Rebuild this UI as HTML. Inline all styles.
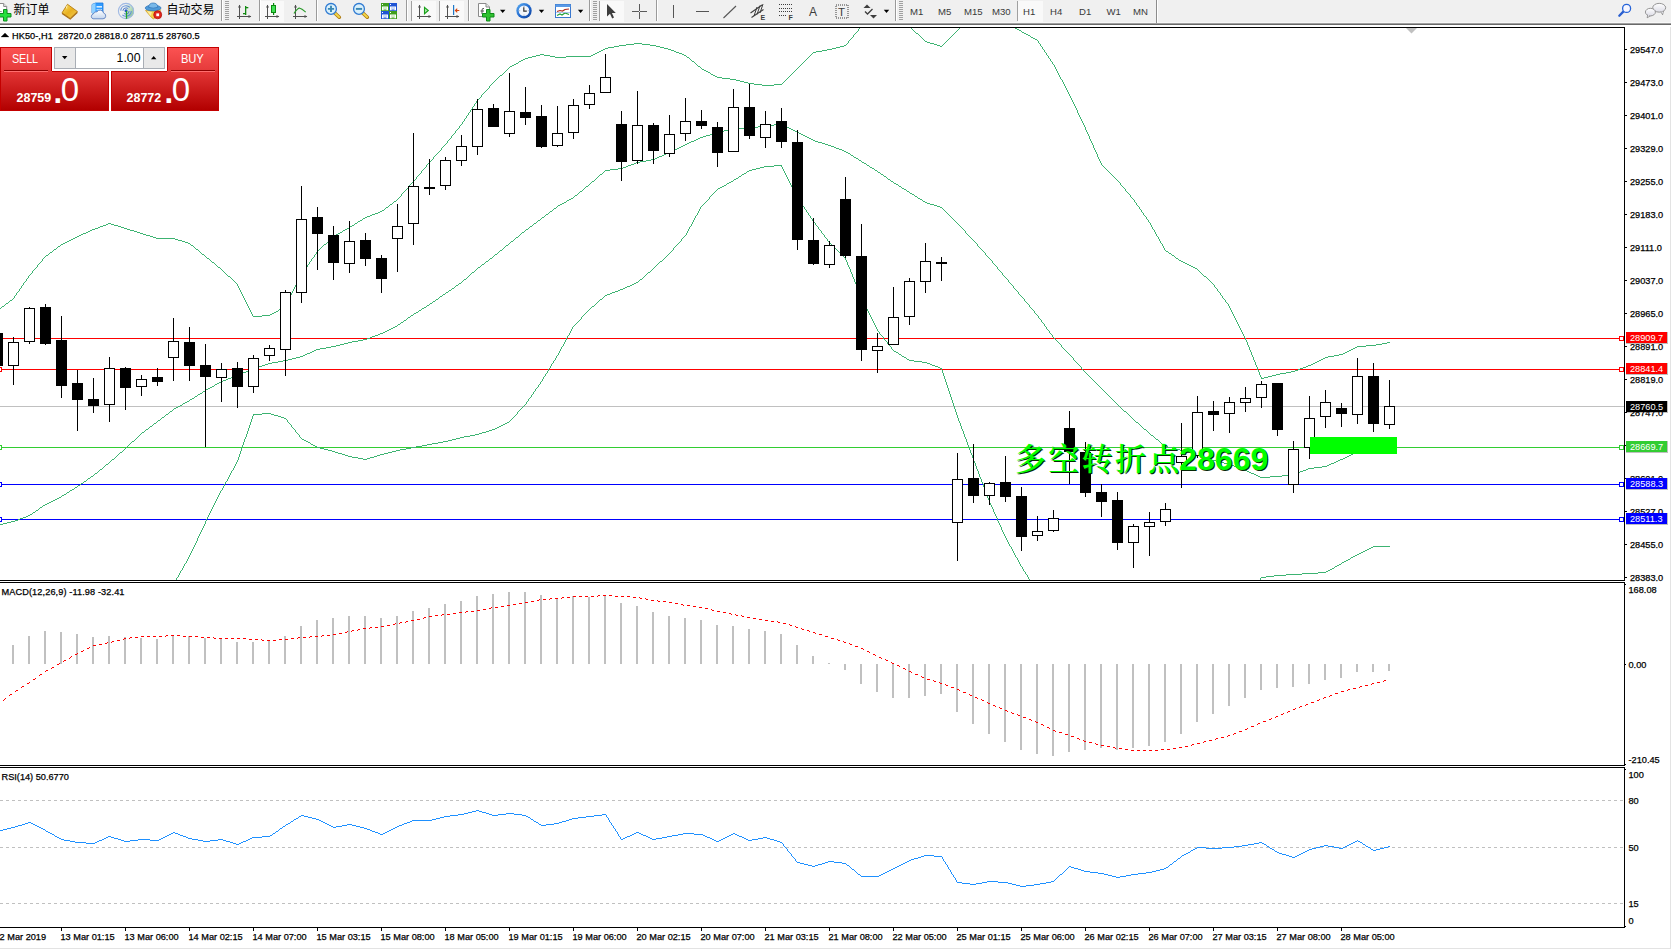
<!DOCTYPE html>
<html><head><meta charset="utf-8"><title>HK50-,H1</title>
<style>
html,body{margin:0;padding:0;background:#fff;}
body{width:1671px;height:949px;position:relative;overflow:hidden;font-family:"Liberation Sans","Noto Sans CJK SC",sans-serif;}
#tb{position:absolute;left:0;top:0;width:1671px;height:27px;background:linear-gradient(#f0f0f0 0,#f0f0f0 22px,#f8f8f8 22px,#f8f8f8 23px,#a0a0a0 23px,#a0a0a0 24px,#696969 24px,#696969 25px,#fff 25px);}
#ow{position:absolute;left:0;top:47px;width:219px;height:64px;}
#ow .tab{position:absolute;top:0;width:52px;height:24px;box-sizing:border-box;border:1px solid #c40000;border-bottom:none;background:linear-gradient(#fb5252,#e53a3a);}
#ow .tl{position:absolute;top:4px;color:#fff;font-size:12px;line-height:14px;display:inline-block;transform-origin:0 0;}
#ow .tb{position:absolute;top:24px;height:1px;display:block;background:#c40000;}
#ow .ul{position:absolute;top:23px;width:44px;height:2px;display:block;background:linear-gradient(#8e0000 0,#8e0000 1px,#ff6e6e 1px,#ff6e6e 2px);}
#ow .pan{position:absolute;top:24px;width:109px;height:40px;box-sizing:border-box;border:1px solid #c40000;border-top:none;background:linear-gradient(#e33636,#b20000);color:#fff;}
#ow .pan:nth-of-type(4){width:108px}
#ow .ps{position:absolute;top:20px;font-size:12.5px;font-weight:bold;line-height:14px;}
#ow .pd{position:absolute;top:6.5px;font-size:31px;line-height:30px;font-weight:bold;margin-left:-2px}
#ow .pb{position:absolute;top:2px;font-size:33px;line-height:34px;}
#ow .spin{position:absolute;left:54px;top:0;width:111px;height:22px;box-sizing:border-box;border:1px solid #a9aeb5;background:#fff;}
#ow .sb{position:absolute;top:0;width:20px;height:20px;background:#e9e9e9;}
#ow .sb:first-child{border-right:1px solid #a9aeb5}
#ow .sb:last-child{border-left:1px solid #a9aeb5}
#ow .sv{position:absolute;right:23.500px;top:2.500px;font-size:12.300px;line-height:14px;color:#000;}

</style></head><body>
<svg width="1671" height="949" viewBox="0 0 1671 949" style="position:absolute;left:0;top:0"><rect x="0" y="28" width="1671" height="921" fill="#fff" />
<rect x="0" y="338" width="1624" height="1" fill="#ff0000" />
<rect x="0" y="369" width="1624" height="1" fill="#ff0000" />
<rect x="0" y="406" width="1624" height="1" fill="#c0c0c0" />
<rect x="0" y="447" width="1624" height="1" fill="#32cd32" />
<rect x="0" y="484" width="1624" height="1" fill="#0000ff" />
<rect x="0" y="519" width="1624" height="1" fill="#0000ff" />
<clipPath id="cm"><rect x="0" y="28" width="1624" height="552"/></clipPath>
<g clip-path="url(#cm)">
<path d="M1015 28h2v1h-2zM1017 29h2v1h-2zM1019 30h2v1h-2zM1022 32h2v1h-2zM916 33h2v1h-2zM1024 33h2v1h-2zM1026 34h2v1h-2zM1028 35h2v1h-2zM1031 37h2v1h-2zM1033 38h2v1h-2zM1035 39h2v1h-2zM925 41h2v1h-2zM927 42h3v1h-3zM634 43h8v1h-8zM930 43h4v1h-4zM626 44h8v1h-8zM642 44h8v1h-8zM934 44h3v1h-3zM619 45h7v1h-7zM650 45h6v1h-6zM844 45h2v1h-2zM937 45h3v1h-3zM614 46h5v1h-5zM656 46h4v1h-4zM840 46h4v1h-4zM940 46h2v1h-2zM608 47h6v1h-6zM660 47h4v1h-4zM836 47h4v1h-4zM605 48h3v1h-3zM664 48h4v1h-4zM832 48h4v1h-4zM603 49h2v1h-2zM668 49h3v1h-3zM827 49h5v1h-5zM601 50h2v1h-2zM671 50h3v1h-3zM822 50h5v1h-5zM599 51h2v1h-2zM674 51h2v1h-2zM816 51h6v1h-6zM597 52h2v1h-2zM676 52h3v1h-3zM813 52h3v1h-3zM595 53h2v1h-2zM679 53h3v1h-3zM540 54h4v1h-4zM593 54h2v1h-2zM682 54h2v1h-2zM536 55h4v1h-4zM544 55h6v1h-6zM591 55h2v1h-2zM684 55h2v1h-2zM532 56h4v1h-4zM550 56h5v1h-5zM566 56h25v1h-25zM528 57h4v1h-4zM555 57h11v1h-11zM687 57h2v1h-2zM525 58h3v1h-3zM523 59h2v1h-2zM521 60h2v1h-2zM519 61h2v1h-2zM692 61h2v1h-2zM516 63h2v1h-2zM514 64h2v1h-2zM512 65h2v1h-2zM510 66h2v1h-2zM698 66h2v1h-2zM702 69h2v1h-2zM704 70h2v1h-2zM706 71h2v1h-2zM708 72h2v1h-2zM711 74h2v1h-2zM500 75h2v1h-2zM713 75h2v1h-2zM715 76h2v1h-2zM717 77h5v1h-5zM722 78h8v1h-8zM730 79h6v1h-6zM736 80h4v1h-4zM740 81h4v1h-4zM744 82h4v1h-4zM748 83h6v1h-6zM754 84h8v1h-8zM774 84h8v1h-8zM762 85h12v1h-12zM394 201h2v1h-2zM390 204h2v1h-2zM386 207h2v1h-2zM382 210h2v1h-2zM380 211h2v1h-2zM378 212h2v1h-2zM375 213h3v1h-3zM372 214h3v1h-3zM370 215h2v1h-2zM367 216h3v1h-3zM365 217h2v1h-2zM363 218h2v1h-2zM360 220h2v1h-2zM358 221h2v1h-2zM108 223h3v1h-3zM355 223h2v1h-2zM106 224h2v1h-2zM111 224h3v1h-3zM103 225h3v1h-3zM114 225h4v1h-4zM352 225h2v1h-2zM100 226h3v1h-3zM118 226h3v1h-3zM350 226h2v1h-2zM98 227h2v1h-2zM121 227h3v1h-3zM95 228h3v1h-3zM124 228h3v1h-3zM347 228h2v1h-2zM92 229h3v1h-3zM127 229h3v1h-3zM345 229h2v1h-2zM90 230h2v1h-2zM130 230h4v1h-4zM343 230h2v1h-2zM88 231h2v1h-2zM134 231h3v1h-3zM86 232h2v1h-2zM137 232h3v1h-3zM340 232h2v1h-2zM83 233h3v1h-3zM140 233h3v1h-3zM338 233h2v1h-2zM81 234h2v1h-2zM143 234h3v1h-3zM336 234h2v1h-2zM79 235h2v1h-2zM146 235h4v1h-4zM334 235h2v1h-2zM77 236h2v1h-2zM150 236h3v1h-3zM75 237h2v1h-2zM153 237h3v1h-3zM73 238h2v1h-2zM156 238h19v1h-19zM71 239h2v1h-2zM175 239h3v1h-3zM69 240h2v1h-2zM178 240h4v1h-4zM67 241h2v1h-2zM182 241h3v1h-3zM65 242h2v1h-2zM185 242h3v1h-3zM63 243h2v1h-2zM188 243h2v1h-2zM61 244h2v1h-2zM324 244h2v1h-2zM191 245h2v1h-2zM58 246h2v1h-2zM54 249h2v1h-2zM196 249h2v1h-2zM1166 251h2v1h-2zM50 252h2v1h-2zM1169 253h2v1h-2zM202 254h2v1h-2zM46 255h2v1h-2zM1172 255h2v1h-2zM207 258h2v1h-2zM1176 258h2v1h-2zM1179 260h2v1h-2zM1181 261h2v1h-2zM212 262h2v1h-2zM1183 262h2v1h-2zM1185 263h2v1h-2zM1187 264h2v1h-2zM1189 265h2v1h-2zM1191 266h2v1h-2zM218 267h2v1h-2zM1193 267h2v1h-2zM1195 268h2v1h-2zM228 276h2v1h-2zM1204 276h2v1h-2zM10 300h2v1h-2zM6 303h2v1h-2zM2 306h2v1h-2zM283 307h2v1h-2zM281 308h2v1h-2zM279 309h2v1h-2zM276 311h2v1h-2zM274 312h2v1h-2zM272 313h2v1h-2zM270 314h2v1h-2zM262 315h8v1h-8zM253 316h9v1h-9zM1387 342h3v1h-3zM1382 343h5v1h-5zM1376 344h6v1h-6zM1366 345h10v1h-10zM1357 346h9v1h-9zM1355 347h2v1h-2zM1353 348h2v1h-2zM1351 349h2v1h-2zM1349 350h2v1h-2zM1347 351h2v1h-2zM1345 352h2v1h-2zM1343 353h2v1h-2zM1339 354h4v1h-4zM1334 355h5v1h-5zM1328 356h6v1h-6zM1325 357h3v1h-3zM1323 358h2v1h-2zM1321 359h2v1h-2zM1319 360h2v1h-2zM1317 361h2v1h-2zM1315 362h2v1h-2zM1313 363h2v1h-2zM1311 364h2v1h-2zM1308 365h3v1h-3zM1306 366h2v1h-2zM1303 367h3v1h-3zM1300 368h3v1h-3zM1298 369h2v1h-2zM1295 370h3v1h-3zM1291 371h4v1h-4zM1286 372h5v1h-5zM1280 373h6v1h-6zM1276 374h4v1h-4zM1272 375h4v1h-4zM1268 376h4v1h-4zM1264 377h4v1h-4zM1261 378h3v1h-3zM859 28h1v1h-1zM911 28h1v1h-1zM959 28h1v1h-1zM858 29h1v2h-1zM912 29h1v1h-1zM958 29h1v1h-1zM913 30h1v1h-1zM957 30h1v1h-1zM857 31h1v1h-1zM914 31h1v1h-1zM956 31h1v1h-1zM1021 31h1v1h-1zM856 32h1v1h-1zM915 32h1v1h-1zM955 32h1v1h-1zM855 33h1v1h-1zM954 33h1v1h-1zM854 34h1v1h-1zM918 34h1v1h-1zM953 34h1v1h-1zM853 35h1v2h-1zM919 35h1v1h-1zM952 35h1v1h-1zM920 36h1v1h-1zM951 36h1v1h-1zM1030 36h1v1h-1zM852 37h1v1h-1zM921 37h1v1h-1zM950 37h1v1h-1zM851 38h1v1h-1zM922 38h1v1h-1zM949 38h1v1h-1zM850 39h1v1h-1zM923 39h1v1h-1zM948 39h1v1h-1zM849 40h1v1h-1zM924 40h1v1h-1zM947 40h1v1h-1zM1037 40h1v1h-1zM848 41h1v2h-1zM946 41h1v1h-1zM1038 41h1v2h-1zM945 42h1v1h-1zM847 43h1v1h-1zM944 43h1v1h-1zM1039 43h1v1h-1zM846 44h1v1h-1zM943 44h1v1h-1zM1040 44h1v2h-1zM942 45h1v1h-1zM1041 46h1v1h-1zM1042 47h1v2h-1zM1043 49h1v1h-1zM1044 50h1v2h-1zM1045 52h1v1h-1zM812 53h1v1h-1zM1046 53h1v2h-1zM811 54h1v1h-1zM810 55h1v1h-1zM1047 55h1v1h-1zM686 56h1v1h-1zM809 56h1v1h-1zM1048 56h1v2h-1zM808 57h1v1h-1zM689 58h1v1h-1zM807 58h1v1h-1zM1049 58h1v1h-1zM690 59h1v1h-1zM806 59h1v1h-1zM1050 59h1v2h-1zM691 60h1v1h-1zM805 60h1v1h-1zM804 61h1v1h-1zM1051 61h1v1h-1zM518 62h1v1h-1zM694 62h1v1h-1zM803 62h1v1h-1zM1052 62h1v2h-1zM695 63h1v1h-1zM802 63h1v1h-1zM696 64h1v1h-1zM801 64h1v1h-1zM1053 64h1v1h-1zM697 65h1v1h-1zM800 65h1v1h-1zM1054 65h1v2h-1zM799 66h1v1h-1zM509 67h1v1h-1zM700 67h1v1h-1zM798 67h1v1h-1zM1055 67h1v2h-1zM508 68h1v1h-1zM701 68h1v1h-1zM797 68h1v1h-1zM507 69h1v1h-1zM796 69h1v1h-1zM1056 69h1v2h-1zM506 70h1v1h-1zM795 70h1v1h-1zM505 71h1v1h-1zM794 71h1v1h-1zM1057 71h1v2h-1zM504 72h1v1h-1zM793 72h1v1h-1zM503 73h1v1h-1zM710 73h1v1h-1zM792 73h1v1h-1zM1058 73h1v2h-1zM502 74h1v1h-1zM791 74h1v1h-1zM790 75h1v1h-1zM1059 75h1v2h-1zM499 76h1v1h-1zM789 76h1v1h-1zM498 77h1v1h-1zM788 77h1v1h-1zM1060 77h1v2h-1zM497 78h1v1h-1zM787 78h1v1h-1zM496 79h1v1h-1zM786 79h1v1h-1zM1061 79h1v1h-1zM495 80h1v1h-1zM785 80h1v1h-1zM1062 80h1v2h-1zM494 81h1v1h-1zM784 81h1v1h-1zM493 82h1v1h-1zM783 82h1v1h-1zM1063 82h1v2h-1zM492 83h1v1h-1zM782 83h1v1h-1zM491 84h1v1h-1zM1064 84h1v2h-1zM490 85h1v1h-1zM489 86h1v2h-1zM1065 86h1v2h-1zM488 88h1v1h-1zM1066 88h1v2h-1zM487 89h1v1h-1zM486 90h1v1h-1zM1067 90h1v2h-1zM485 91h1v1h-1zM484 92h1v1h-1zM1068 92h1v2h-1zM483 93h1v1h-1zM482 94h1v1h-1zM1069 94h1v2h-1zM481 95h1v2h-1zM1070 96h1v2h-1zM480 97h1v1h-1zM479 98h1v1h-1zM1071 98h1v2h-1zM478 99h1v1h-1zM477 100h1v1h-1zM1072 100h1v2h-1zM476 101h1v2h-1zM1073 102h1v2h-1zM475 103h1v1h-1zM474 104h1v2h-1zM1074 104h1v2h-1zM473 106h1v1h-1zM1075 106h1v2h-1zM472 107h1v2h-1zM1076 108h1v2h-1zM471 109h1v1h-1zM470 110h1v2h-1zM1077 110h1v3h-1zM469 112h1v1h-1zM468 113h1v2h-1zM1078 113h1v2h-1zM467 115h1v1h-1zM1079 115h1v2h-1zM466 116h1v2h-1zM1080 117h1v2h-1zM465 118h1v1h-1zM464 119h1v2h-1zM1081 119h1v2h-1zM463 121h1v1h-1zM1082 121h1v2h-1zM462 122h1v2h-1zM1083 123h1v2h-1zM461 124h1v1h-1zM460 125h1v1h-1zM1084 125h1v2h-1zM459 126h1v2h-1zM1085 127h1v3h-1zM458 128h1v1h-1zM457 129h1v1h-1zM456 130h1v1h-1zM1086 130h1v2h-1zM455 131h1v2h-1zM1087 132h1v2h-1zM454 133h1v1h-1zM453 134h1v1h-1zM1088 134h1v2h-1zM452 135h1v1h-1zM451 136h1v2h-1zM1089 136h1v3h-1zM450 138h1v1h-1zM449 139h1v1h-1zM1090 139h1v2h-1zM448 140h1v1h-1zM447 141h1v2h-1zM1091 141h1v2h-1zM446 143h1v1h-1zM1092 143h1v2h-1zM445 144h1v1h-1zM444 145h1v1h-1zM1093 145h1v3h-1zM443 146h1v1h-1zM442 147h1v1h-1zM441 148h1v2h-1zM1094 148h1v2h-1zM440 150h1v1h-1zM1095 150h1v2h-1zM439 151h1v1h-1zM438 152h1v1h-1zM1096 152h1v2h-1zM437 153h1v1h-1zM436 154h1v1h-1zM1097 154h1v3h-1zM435 155h1v1h-1zM434 156h1v1h-1zM433 157h1v2h-1zM1098 157h1v2h-1zM432 159h1v1h-1zM1099 159h1v2h-1zM431 160h1v1h-1zM430 161h1v1h-1zM1100 161h1v2h-1zM429 162h1v1h-1zM428 163h1v1h-1zM1101 163h1v2h-1zM427 164h1v1h-1zM426 165h1v2h-1zM1102 165h1v1h-1zM1103 166h1v1h-1zM425 167h1v1h-1zM1104 167h1v1h-1zM424 168h1v1h-1zM1105 168h1v1h-1zM423 169h1v1h-1zM1106 169h1v1h-1zM422 170h1v1h-1zM1107 170h1v1h-1zM421 171h1v2h-1zM1108 171h1v1h-1zM1109 172h1v1h-1zM420 173h1v1h-1zM1110 173h1v1h-1zM419 174h1v1h-1zM1111 174h1v1h-1zM418 175h1v1h-1zM1112 175h1v1h-1zM417 176h1v1h-1zM1113 176h1v1h-1zM416 177h1v2h-1zM1114 177h1v1h-1zM1115 178h1v1h-1zM415 179h1v1h-1zM1116 179h1v1h-1zM414 180h1v1h-1zM1117 180h1v1h-1zM413 181h1v1h-1zM1118 181h1v1h-1zM412 182h1v1h-1zM1119 182h1v1h-1zM411 183h1v1h-1zM1120 183h1v2h-1zM410 184h1v1h-1zM409 185h1v2h-1zM1121 185h1v1h-1zM1122 186h1v1h-1zM408 187h1v1h-1zM1123 187h1v1h-1zM407 188h1v1h-1zM1124 188h1v1h-1zM406 189h1v1h-1zM1125 189h1v2h-1zM405 190h1v1h-1zM404 191h1v1h-1zM1126 191h1v1h-1zM403 192h1v1h-1zM1127 192h1v1h-1zM402 193h1v1h-1zM1128 193h1v1h-1zM401 194h1v2h-1zM1129 194h1v1h-1zM1130 195h1v2h-1zM400 196h1v1h-1zM399 197h1v1h-1zM1131 197h1v1h-1zM398 198h1v1h-1zM1132 198h1v1h-1zM397 199h1v1h-1zM1133 199h1v1h-1zM396 200h1v1h-1zM1134 200h1v2h-1zM393 202h1v1h-1zM1135 202h1v1h-1zM392 203h1v1h-1zM1136 203h1v2h-1zM389 205h1v1h-1zM1137 205h1v1h-1zM388 206h1v1h-1zM1138 206h1v1h-1zM1139 207h1v2h-1zM385 208h1v1h-1zM384 209h1v1h-1zM1140 209h1v1h-1zM1141 210h1v2h-1zM1142 212h1v1h-1zM1143 213h1v2h-1zM1144 215h1v1h-1zM1145 216h1v1h-1zM1146 217h1v2h-1zM362 219h1v1h-1zM1147 219h1v1h-1zM1148 220h1v2h-1zM357 222h1v1h-1zM1149 222h1v1h-1zM1150 223h1v2h-1zM354 224h1v1h-1zM1151 225h1v2h-1zM349 227h1v1h-1zM1152 227h1v2h-1zM1153 229h1v1h-1zM1154 230h1v2h-1zM342 231h1v1h-1zM1155 232h1v2h-1zM1156 234h1v2h-1zM333 236h1v1h-1zM1157 236h1v1h-1zM332 237h1v1h-1zM1158 237h1v2h-1zM331 238h1v1h-1zM330 239h1v1h-1zM1159 239h1v2h-1zM329 240h1v1h-1zM328 241h1v1h-1zM1160 241h1v2h-1zM327 242h1v1h-1zM326 243h1v1h-1zM1161 243h1v1h-1zM190 244h1v1h-1zM1162 244h1v2h-1zM60 245h1v1h-1zM323 245h1v1h-1zM193 246h1v1h-1zM322 246h1v1h-1zM1163 246h1v2h-1zM57 247h1v1h-1zM194 247h1v1h-1zM321 247h1v1h-1zM56 248h1v1h-1zM195 248h1v1h-1zM320 248h1v1h-1zM1164 248h1v2h-1zM319 249h1v1h-1zM53 250h1v1h-1zM198 250h1v1h-1zM318 250h1v1h-1zM1165 250h1v1h-1zM52 251h1v1h-1zM199 251h1v1h-1zM317 251h1v1h-1zM200 252h1v1h-1zM316 252h1v2h-1zM1168 252h1v1h-1zM49 253h1v1h-1zM201 253h1v1h-1zM48 254h1v1h-1zM315 254h1v1h-1zM1171 254h1v1h-1zM204 255h1v1h-1zM314 255h1v2h-1zM45 256h1v1h-1zM205 256h1v1h-1zM1174 256h1v1h-1zM44 257h1v1h-1zM206 257h1v1h-1zM313 257h1v1h-1zM1175 257h1v1h-1zM43 258h1v1h-1zM312 258h1v1h-1zM42 259h1v2h-1zM209 259h1v1h-1zM311 259h1v2h-1zM1178 259h1v1h-1zM210 260h1v1h-1zM41 261h1v1h-1zM211 261h1v1h-1zM310 261h1v1h-1zM40 262h1v1h-1zM309 262h1v2h-1zM39 263h1v1h-1zM214 263h1v1h-1zM38 264h1v1h-1zM215 264h1v1h-1zM308 264h1v1h-1zM37 265h1v2h-1zM216 265h1v1h-1zM307 265h1v2h-1zM217 266h1v1h-1zM36 267h1v1h-1zM306 267h1v1h-1zM35 268h1v1h-1zM220 268h1v1h-1zM305 268h1v1h-1zM34 269h1v1h-1zM221 269h1v1h-1zM304 269h1v2h-1zM1197 269h1v1h-1zM33 270h1v1h-1zM222 270h1v1h-1zM1198 270h1v1h-1zM32 271h1v2h-1zM223 271h1v1h-1zM303 271h1v1h-1zM1199 271h1v1h-1zM224 272h1v1h-1zM302 272h1v2h-1zM1200 272h1v1h-1zM31 273h1v1h-1zM225 273h1v1h-1zM1201 273h1v1h-1zM30 274h1v1h-1zM226 274h1v1h-1zM301 274h1v1h-1zM1202 274h1v1h-1zM29 275h1v1h-1zM227 275h1v1h-1zM300 275h1v2h-1zM1203 275h1v1h-1zM28 276h1v2h-1zM230 277h1v1h-1zM299 277h1v2h-1zM1206 277h1v1h-1zM27 278h1v1h-1zM231 278h1v1h-1zM1207 278h1v1h-1zM26 279h1v2h-1zM232 279h1v1h-1zM298 279h1v2h-1zM1208 279h1v1h-1zM233 280h1v1h-1zM1209 280h1v1h-1zM25 281h1v1h-1zM234 281h1v1h-1zM297 281h1v2h-1zM1210 281h1v1h-1zM24 282h1v1h-1zM235 282h1v1h-1zM1211 282h1v1h-1zM23 283h1v2h-1zM236 283h1v1h-1zM296 283h1v2h-1zM1212 283h1v1h-1zM237 284h1v2h-1zM1213 284h1v1h-1zM22 285h1v1h-1zM295 285h1v2h-1zM1214 285h1v2h-1zM21 286h1v2h-1zM238 286h1v2h-1zM294 287h1v2h-1zM1215 287h1v1h-1zM20 288h1v1h-1zM239 288h1v2h-1zM1216 288h1v1h-1zM19 289h1v2h-1zM293 289h1v2h-1zM1217 289h1v2h-1zM240 290h1v2h-1zM18 291h1v1h-1zM292 291h1v2h-1zM1218 291h1v1h-1zM17 292h1v1h-1zM241 292h1v2h-1zM1219 292h1v1h-1zM16 293h1v2h-1zM291 293h1v2h-1zM1220 293h1v2h-1zM242 294h1v2h-1zM15 295h1v1h-1zM290 295h1v2h-1zM1221 295h1v1h-1zM14 296h1v2h-1zM243 296h1v2h-1zM1222 296h1v2h-1zM289 297h1v2h-1zM13 298h1v1h-1zM244 298h1v2h-1zM1223 298h1v1h-1zM12 299h1v1h-1zM288 299h1v2h-1zM1224 299h1v1h-1zM245 300h1v2h-1zM1225 300h1v2h-1zM9 301h1v1h-1zM287 301h1v2h-1zM8 302h1v1h-1zM246 302h1v2h-1zM1226 302h1v1h-1zM286 303h1v2h-1zM1227 303h1v1h-1zM5 304h1v1h-1zM247 304h1v2h-1zM1228 304h1v2h-1zM4 305h1v1h-1zM285 305h1v2h-1zM248 306h1v2h-1zM1229 306h1v2h-1zM1 307h1v1h-1zM0 308h1v1h-1zM249 308h1v2h-1zM1230 308h1v2h-1zM250 310h1v2h-1zM278 310h1v1h-1zM1231 310h1v2h-1zM251 312h1v2h-1zM1232 312h1v2h-1zM252 314h1v2h-1zM1233 314h1v2h-1zM1234 316h1v2h-1zM1235 318h1v2h-1zM1236 320h1v2h-1zM1237 322h1v2h-1zM1238 324h1v2h-1zM1239 326h1v2h-1zM1240 328h1v2h-1zM1241 330h1v2h-1zM1242 332h1v2h-1zM1243 334h1v2h-1zM1244 336h1v2h-1zM1245 338h1v2h-1zM1246 340h1v2h-1zM1247 342h1v3h-1zM1248 345h1v2h-1zM1249 347h1v3h-1zM1250 350h1v2h-1zM1251 352h1v3h-1zM1252 355h1v2h-1zM1253 357h1v3h-1zM1254 360h1v2h-1zM1255 362h1v3h-1zM1256 365h1v2h-1zM1257 367h1v3h-1zM1258 370h1v2h-1zM1259 372h1v3h-1zM1260 375h1v2h-1zM1261 377h1v1h-1z" fill="#3cb371" shape-rendering="crispEdges"/>
<path d="M774 124h9v1h-9zM763 125h11v1h-11zM783 125h2v1h-2zM758 126h5v1h-5zM785 126h2v1h-2zM752 127h6v1h-6zM787 127h2v1h-2zM732 128h20v1h-20zM789 128h2v1h-2zM728 129h4v1h-4zM791 129h2v1h-2zM724 130h4v1h-4zM793 130h2v1h-2zM720 131h4v1h-4zM795 131h2v1h-2zM716 132h4v1h-4zM797 132h2v1h-2zM713 133h3v1h-3zM799 133h2v1h-2zM710 134h3v1h-3zM801 134h2v1h-2zM706 135h4v1h-4zM803 135h2v1h-2zM703 136h3v1h-3zM805 136h2v1h-2zM700 137h3v1h-3zM807 137h2v1h-2zM698 138h2v1h-2zM809 138h2v1h-2zM696 139h2v1h-2zM811 139h2v1h-2zM694 140h2v1h-2zM813 140h2v1h-2zM691 141h3v1h-3zM815 141h3v1h-3zM689 142h2v1h-2zM818 142h4v1h-4zM687 143h2v1h-2zM822 143h3v1h-3zM685 144h2v1h-2zM825 144h3v1h-3zM683 145h2v1h-2zM828 145h3v1h-3zM681 146h2v1h-2zM831 146h3v1h-3zM679 147h2v1h-2zM834 147h2v1h-2zM677 148h2v1h-2zM836 148h3v1h-3zM675 149h2v1h-2zM839 149h3v1h-3zM673 150h2v1h-2zM842 150h2v1h-2zM671 151h2v1h-2zM844 151h2v1h-2zM668 152h3v1h-3zM846 152h2v1h-2zM666 153h2v1h-2zM848 153h2v1h-2zM664 154h2v1h-2zM662 155h2v1h-2zM851 155h2v1h-2zM659 156h3v1h-3zM657 157h2v1h-2zM854 157h2v1h-2zM655 158h2v1h-2zM856 158h2v1h-2zM651 159h4v1h-4zM646 160h5v1h-5zM859 160h2v1h-2zM640 161h6v1h-6zM636 162h4v1h-4zM862 162h2v1h-2zM634 163h2v1h-2zM864 163h2v1h-2zM631 164h3v1h-3zM628 165h3v1h-3zM867 165h2v1h-2zM626 166h2v1h-2zM623 167h3v1h-3zM870 167h2v1h-2zM618 168h5v1h-5zM872 168h2v1h-2zM610 169h8v1h-8zM605 170h5v1h-5zM875 170h2v1h-2zM878 172h2v1h-2zM600 174h2v1h-2zM881 174h2v1h-2zM884 176h2v1h-2zM888 179h2v1h-2zM592 181h2v1h-2zM891 181h2v1h-2zM894 183h2v1h-2zM896 184h2v1h-2zM586 186h2v1h-2zM899 186h2v1h-2zM902 188h2v1h-2zM904 189h2v1h-2zM580 191h2v1h-2zM907 191h2v1h-2zM910 193h2v1h-2zM912 194h2v1h-2zM575 195h2v1h-2zM915 196h2v1h-2zM571 198h2v1h-2zM918 198h2v1h-2zM569 199h2v1h-2zM920 199h2v1h-2zM567 200h2v1h-2zM923 201h2v1h-2zM564 202h2v1h-2zM925 202h2v1h-2zM562 203h2v1h-2zM927 203h3v1h-3zM560 204h2v1h-2zM930 204h4v1h-4zM558 205h2v1h-2zM934 205h3v1h-3zM937 206h3v1h-3zM940 207h2v1h-2zM554 208h2v1h-2zM550 211h2v1h-2zM546 214h2v1h-2zM542 217h2v1h-2zM538 220h2v1h-2zM534 223h2v1h-2zM530 226h2v1h-2zM526 229h2v1h-2zM522 232h2v1h-2zM516 237h2v1h-2zM511 241h2v1h-2zM506 245h2v1h-2zM500 250h2v1h-2zM495 254h2v1h-2zM490 258h2v1h-2zM486 261h2v1h-2zM482 264h2v1h-2zM478 267h2v1h-2zM472 272h2v1h-2zM464 279h2v1h-2zM459 283h2v1h-2zM456 285h2v1h-2zM452 288h2v1h-2zM449 290h2v1h-2zM446 292h2v1h-2zM443 294h2v1h-2zM440 296h2v1h-2zM436 299h2v1h-2zM433 301h2v1h-2zM430 303h2v1h-2zM427 305h2v1h-2zM424 307h2v1h-2zM422 308h2v1h-2zM419 310h2v1h-2zM416 312h2v1h-2zM414 313h2v1h-2zM411 315h2v1h-2zM408 317h2v1h-2zM404 320h2v1h-2zM401 322h2v1h-2zM398 324h2v1h-2zM395 326h2v1h-2zM393 327h2v1h-2zM391 328h2v1h-2zM389 329h2v1h-2zM387 330h2v1h-2zM385 331h2v1h-2zM383 332h2v1h-2zM380 333h3v1h-3zM378 334h2v1h-2zM375 335h3v1h-3zM372 336h3v1h-3zM370 337h2v1h-2zM367 338h3v1h-3zM363 339h4v1h-4zM358 340h5v1h-5zM352 341h6v1h-6zM348 342h4v1h-4zM344 343h4v1h-4zM340 344h4v1h-4zM336 345h4v1h-4zM331 346h5v1h-5zM326 347h5v1h-5zM320 348h6v1h-6zM316 349h4v1h-4zM314 350h2v1h-2zM312 351h2v1h-2zM310 352h2v1h-2zM307 353h3v1h-3zM305 354h2v1h-2zM303 355h2v1h-2zM300 356h3v1h-3zM296 357h4v1h-4zM292 358h4v1h-4zM288 359h4v1h-4zM283 360h5v1h-5zM278 361h5v1h-5zM272 362h6v1h-6zM268 363h4v1h-4zM265 364h3v1h-3zM262 365h3v1h-3zM258 366h4v1h-4zM255 367h3v1h-3zM252 368h3v1h-3zM250 369h2v1h-2zM248 370h2v1h-2zM246 371h2v1h-2zM243 372h3v1h-3zM241 373h2v1h-2zM239 374h2v1h-2zM236 375h3v1h-3zM234 376h2v1h-2zM231 377h3v1h-3zM228 378h3v1h-3zM226 379h2v1h-2zM223 380h3v1h-3zM221 381h2v1h-2zM219 382h2v1h-2zM217 383h2v1h-2zM215 384h2v1h-2zM212 386h2v1h-2zM210 387h2v1h-2zM208 388h2v1h-2zM206 389h2v1h-2zM203 391h2v1h-2zM200 393h2v1h-2zM198 394h2v1h-2zM195 396h2v1h-2zM192 398h2v1h-2zM190 399h2v1h-2zM187 401h2v1h-2zM185 402h2v1h-2zM183 403h2v1h-2zM180 405h2v1h-2zM178 406h2v1h-2zM176 407h2v1h-2zM174 408h2v1h-2zM170 411h2v1h-2zM1124 411h2v1h-2zM166 414h2v1h-2zM162 417h2v1h-2zM158 420h2v1h-2zM1136 422h2v1h-2zM154 423h2v1h-2zM150 426h2v1h-2zM146 429h2v1h-2zM1144 429h2v1h-2zM142 432h2v1h-2zM1151 435h2v1h-2zM1156 439h2v1h-2zM132 441h2v1h-2zM1162 444h2v1h-2zM1386 444h4v1h-4zM1378 445h8v1h-8zM1165 446h3v1h-3zM1372 446h6v1h-6zM1168 447h4v1h-4zM1369 447h3v1h-3zM1172 448h4v1h-4zM1366 448h3v1h-3zM1176 449h4v1h-4zM1362 449h4v1h-4zM1180 450h4v1h-4zM1359 450h3v1h-3zM1184 451h4v1h-4zM1357 451h2v1h-2zM120 452h2v1h-2zM1188 452h4v1h-4zM1355 452h2v1h-2zM1192 453h4v1h-4zM1353 453h2v1h-2zM1196 454h3v1h-3zM1351 454h2v1h-2zM1199 455h3v1h-3zM1349 455h2v1h-2zM1202 456h2v1h-2zM1347 456h2v1h-2zM1204 457h3v1h-3zM1345 457h2v1h-2zM1207 458h3v1h-3zM1343 458h2v1h-2zM112 459h2v1h-2zM1210 459h2v1h-2zM1340 459h3v1h-3zM1212 460h4v1h-4zM1338 460h2v1h-2zM1216 461h4v1h-4zM1336 461h2v1h-2zM1220 462h4v1h-4zM1334 462h2v1h-2zM1224 463h4v1h-4zM1331 463h3v1h-3zM106 464h2v1h-2zM1228 464h3v1h-3zM1329 464h2v1h-2zM1231 465h3v1h-3zM1327 465h2v1h-2zM1234 466h2v1h-2zM1322 466h5v1h-5zM1236 467h3v1h-3zM1314 467h8v1h-8zM1239 468h3v1h-3zM1308 468h6v1h-6zM100 469h2v1h-2zM1242 469h2v1h-2zM1306 469h2v1h-2zM1244 470h3v1h-3zM1303 470h3v1h-3zM1247 471h2v1h-2zM1300 471h3v1h-3zM1249 472h2v1h-2zM1298 472h2v1h-2zM95 473h2v1h-2zM1251 473h3v1h-3zM1295 473h3v1h-3zM1254 474h2v1h-2zM1290 474h5v1h-5zM1256 475h2v1h-2zM1282 475h8v1h-8zM91 476h2v1h-2zM1258 476h2v1h-2zM1270 476h12v1h-12zM1260 477h10v1h-10zM88 478h2v1h-2zM84 481h2v1h-2zM81 483h2v1h-2zM78 485h2v1h-2zM75 487h2v1h-2zM72 489h2v1h-2zM70 490h2v1h-2zM67 492h2v1h-2zM64 494h2v1h-2zM62 495h2v1h-2zM59 497h2v1h-2zM57 498h2v1h-2zM55 499h2v1h-2zM53 500h2v1h-2zM51 501h2v1h-2zM49 502h2v1h-2zM47 503h2v1h-2zM45 504h2v1h-2zM43 505h2v1h-2zM40 507h2v1h-2zM36 510h2v1h-2zM33 512h2v1h-2zM30 514h2v1h-2zM28 515h2v1h-2zM26 516h2v1h-2zM23 517h3v1h-3zM20 518h3v1h-3zM18 519h2v1h-2zM15 520h3v1h-3zM11 521h4v1h-4zM7 522h4v1h-4zM3 523h4v1h-4zM0 524h3v1h-3zM850 154h1v1h-1zM853 156h1v1h-1zM858 159h1v1h-1zM861 161h1v1h-1zM866 164h1v1h-1zM869 166h1v1h-1zM874 169h1v1h-1zM604 171h1v1h-1zM877 171h1v1h-1zM603 172h1v1h-1zM602 173h1v1h-1zM880 173h1v1h-1zM599 175h1v1h-1zM883 175h1v1h-1zM598 176h1v1h-1zM597 177h1v1h-1zM886 177h1v1h-1zM596 178h1v1h-1zM887 178h1v1h-1zM595 179h1v1h-1zM594 180h1v1h-1zM890 180h1v1h-1zM591 182h1v1h-1zM893 182h1v1h-1zM590 183h1v1h-1zM589 184h1v1h-1zM588 185h1v1h-1zM898 185h1v1h-1zM585 187h1v1h-1zM901 187h1v1h-1zM584 188h1v1h-1zM583 189h1v1h-1zM582 190h1v1h-1zM906 190h1v1h-1zM579 192h1v1h-1zM909 192h1v1h-1zM578 193h1v1h-1zM577 194h1v1h-1zM914 195h1v1h-1zM574 196h1v1h-1zM573 197h1v1h-1zM917 197h1v1h-1zM922 200h1v1h-1zM566 201h1v1h-1zM557 206h1v1h-1zM556 207h1v1h-1zM942 208h1v1h-1zM553 209h1v1h-1zM943 209h1v1h-1zM552 210h1v1h-1zM944 210h1v1h-1zM945 211h1v1h-1zM549 212h1v1h-1zM946 212h1v1h-1zM548 213h1v1h-1zM947 213h1v1h-1zM948 214h1v1h-1zM545 215h1v1h-1zM949 215h1v1h-1zM544 216h1v1h-1zM950 216h1v1h-1zM951 217h1v1h-1zM541 218h1v1h-1zM952 218h1v1h-1zM540 219h1v1h-1zM953 219h1v1h-1zM954 220h1v1h-1zM537 221h1v1h-1zM955 221h1v1h-1zM536 222h1v1h-1zM956 222h1v1h-1zM957 223h1v1h-1zM533 224h1v1h-1zM958 224h1v1h-1zM532 225h1v1h-1zM959 225h1v1h-1zM960 226h1v1h-1zM529 227h1v1h-1zM961 227h1v1h-1zM528 228h1v1h-1zM962 228h1v1h-1zM963 229h1v1h-1zM525 230h1v1h-1zM964 230h1v1h-1zM524 231h1v1h-1zM965 231h1v2h-1zM521 233h1v1h-1zM966 233h1v1h-1zM520 234h1v1h-1zM967 234h1v1h-1zM519 235h1v1h-1zM968 235h1v1h-1zM518 236h1v1h-1zM969 236h1v1h-1zM970 237h1v1h-1zM515 238h1v1h-1zM971 238h1v1h-1zM514 239h1v1h-1zM972 239h1v1h-1zM513 240h1v1h-1zM973 240h1v1h-1zM974 241h1v1h-1zM510 242h1v1h-1zM975 242h1v1h-1zM509 243h1v1h-1zM976 243h1v1h-1zM508 244h1v1h-1zM977 244h1v2h-1zM505 246h1v1h-1zM978 246h1v1h-1zM504 247h1v1h-1zM979 247h1v1h-1zM503 248h1v1h-1zM980 248h1v1h-1zM502 249h1v1h-1zM981 249h1v1h-1zM982 250h1v1h-1zM499 251h1v1h-1zM983 251h1v1h-1zM498 252h1v1h-1zM984 252h1v1h-1zM497 253h1v1h-1zM985 253h1v2h-1zM494 255h1v1h-1zM986 255h1v1h-1zM493 256h1v1h-1zM987 256h1v1h-1zM492 257h1v1h-1zM988 257h1v1h-1zM989 258h1v1h-1zM489 259h1v1h-1zM990 259h1v1h-1zM488 260h1v1h-1zM991 260h1v1h-1zM992 261h1v2h-1zM485 262h1v1h-1zM484 263h1v1h-1zM993 263h1v1h-1zM994 264h1v1h-1zM481 265h1v1h-1zM995 265h1v1h-1zM480 266h1v1h-1zM996 266h1v1h-1zM997 267h1v2h-1zM477 268h1v1h-1zM476 269h1v1h-1zM998 269h1v1h-1zM475 270h1v1h-1zM999 270h1v1h-1zM474 271h1v1h-1zM1000 271h1v1h-1zM1001 272h1v1h-1zM471 273h1v1h-1zM1002 273h1v2h-1zM470 274h1v1h-1zM469 275h1v1h-1zM1003 275h1v1h-1zM468 276h1v1h-1zM1004 276h1v1h-1zM467 277h1v1h-1zM1005 277h1v1h-1zM466 278h1v1h-1zM1006 278h1v1h-1zM1007 279h1v1h-1zM463 280h1v1h-1zM1008 280h1v2h-1zM462 281h1v1h-1zM461 282h1v1h-1zM1009 282h1v1h-1zM1010 283h1v1h-1zM458 284h1v1h-1zM1011 284h1v1h-1zM1012 285h1v1h-1zM455 286h1v1h-1zM1013 286h1v2h-1zM454 287h1v1h-1zM1014 288h1v1h-1zM451 289h1v1h-1zM1015 289h1v1h-1zM1016 290h1v1h-1zM448 291h1v1h-1zM1017 291h1v1h-1zM1018 292h1v2h-1zM445 293h1v1h-1zM1019 294h1v1h-1zM442 295h1v1h-1zM1020 295h1v1h-1zM1021 296h1v1h-1zM439 297h1v1h-1zM1022 297h1v1h-1zM438 298h1v1h-1zM1023 298h1v1h-1zM1024 299h1v2h-1zM435 300h1v1h-1zM1025 301h1v1h-1zM432 302h1v1h-1zM1026 302h1v1h-1zM1027 303h1v1h-1zM429 304h1v1h-1zM1028 304h1v1h-1zM1029 305h1v2h-1zM426 306h1v1h-1zM1030 307h1v1h-1zM1031 308h1v1h-1zM421 309h1v1h-1zM1032 309h1v1h-1zM1033 310h1v1h-1zM418 311h1v1h-1zM1034 311h1v2h-1zM1035 313h1v1h-1zM413 314h1v1h-1zM1036 314h1v1h-1zM1037 315h1v1h-1zM410 316h1v1h-1zM1038 316h1v2h-1zM407 318h1v1h-1zM1039 318h1v1h-1zM406 319h1v1h-1zM1040 319h1v1h-1zM1041 320h1v2h-1zM403 321h1v1h-1zM1042 322h1v1h-1zM400 323h1v1h-1zM1043 323h1v1h-1zM1044 324h1v2h-1zM397 325h1v1h-1zM1045 326h1v1h-1zM1046 327h1v2h-1zM1047 329h1v1h-1zM1048 330h1v1h-1zM1049 331h1v2h-1zM1050 333h1v1h-1zM1051 334h1v1h-1zM1052 335h1v2h-1zM1053 337h1v1h-1zM1054 338h1v1h-1zM1055 339h1v1h-1zM1056 340h1v1h-1zM1057 341h1v1h-1zM1058 342h1v1h-1zM1059 343h1v1h-1zM1060 344h1v1h-1zM1061 345h1v2h-1zM1062 347h1v1h-1zM1063 348h1v1h-1zM1064 349h1v1h-1zM1065 350h1v1h-1zM1066 351h1v1h-1zM1067 352h1v1h-1zM1068 353h1v1h-1zM1069 354h1v1h-1zM1070 355h1v1h-1zM1071 356h1v1h-1zM1072 357h1v1h-1zM1073 358h1v2h-1zM1074 360h1v1h-1zM1075 361h1v1h-1zM1076 362h1v1h-1zM1077 363h1v1h-1zM1078 364h1v1h-1zM1079 365h1v1h-1zM1080 366h1v1h-1zM1081 367h1v2h-1zM1082 369h1v1h-1zM1083 370h1v1h-1zM1084 371h1v1h-1zM1085 372h1v1h-1zM1086 373h1v1h-1zM1087 374h1v1h-1zM1088 375h1v1h-1zM1089 376h1v1h-1zM1090 377h1v1h-1zM1091 378h1v1h-1zM1092 379h1v1h-1zM1093 380h1v1h-1zM1094 381h1v1h-1zM1095 382h1v1h-1zM1096 383h1v1h-1zM1097 384h1v1h-1zM214 385h1v1h-1zM1098 385h1v1h-1zM1099 386h1v1h-1zM1100 387h1v1h-1zM1101 388h1v1h-1zM1102 389h1v1h-1zM205 390h1v1h-1zM1103 390h1v1h-1zM1104 391h1v1h-1zM202 392h1v1h-1zM1105 392h1v1h-1zM1106 393h1v1h-1zM1107 394h1v1h-1zM197 395h1v1h-1zM1108 395h1v1h-1zM1109 396h1v1h-1zM194 397h1v1h-1zM1110 397h1v1h-1zM1111 398h1v1h-1zM1112 399h1v1h-1zM189 400h1v1h-1zM1113 400h1v1h-1zM1114 401h1v1h-1zM1115 402h1v1h-1zM1116 403h1v1h-1zM182 404h1v1h-1zM1117 404h1v1h-1zM1118 405h1v1h-1zM1119 406h1v1h-1zM1120 407h1v1h-1zM1121 408h1v1h-1zM173 409h1v1h-1zM1122 409h1v1h-1zM172 410h1v1h-1zM1123 410h1v1h-1zM169 412h1v1h-1zM1126 412h1v1h-1zM168 413h1v1h-1zM1127 413h1v1h-1zM1128 414h1v1h-1zM165 415h1v1h-1zM1129 415h1v1h-1zM164 416h1v1h-1zM1130 416h1v1h-1zM1131 417h1v1h-1zM161 418h1v1h-1zM1132 418h1v1h-1zM160 419h1v1h-1zM1133 419h1v1h-1zM1134 420h1v1h-1zM157 421h1v1h-1zM1135 421h1v1h-1zM156 422h1v1h-1zM1138 423h1v1h-1zM153 424h1v1h-1zM1139 424h1v1h-1zM152 425h1v1h-1zM1140 425h1v1h-1zM1141 426h1v1h-1zM149 427h1v1h-1zM1142 427h1v1h-1zM148 428h1v1h-1zM1143 428h1v1h-1zM145 430h1v1h-1zM1146 430h1v1h-1zM144 431h1v1h-1zM1147 431h1v1h-1zM1148 432h1v1h-1zM141 433h1v1h-1zM1149 433h1v1h-1zM140 434h1v1h-1zM1150 434h1v1h-1zM139 435h1v1h-1zM138 436h1v1h-1zM1153 436h1v1h-1zM137 437h1v1h-1zM1154 437h1v1h-1zM136 438h1v1h-1zM1155 438h1v1h-1zM135 439h1v1h-1zM134 440h1v1h-1zM1158 440h1v1h-1zM1159 441h1v1h-1zM131 442h1v1h-1zM1160 442h1v1h-1zM130 443h1v1h-1zM1161 443h1v1h-1zM129 444h1v1h-1zM128 445h1v1h-1zM1164 445h1v1h-1zM127 446h1v1h-1zM126 447h1v1h-1zM125 448h1v1h-1zM124 449h1v1h-1zM123 450h1v1h-1zM122 451h1v1h-1zM119 453h1v1h-1zM118 454h1v1h-1zM117 455h1v1h-1zM116 456h1v1h-1zM115 457h1v1h-1zM114 458h1v1h-1zM111 460h1v1h-1zM110 461h1v1h-1zM109 462h1v1h-1zM108 463h1v1h-1zM105 465h1v1h-1zM104 466h1v1h-1zM103 467h1v1h-1zM102 468h1v1h-1zM99 470h1v1h-1zM98 471h1v1h-1zM97 472h1v1h-1zM94 474h1v1h-1zM93 475h1v1h-1zM90 477h1v1h-1zM87 479h1v1h-1zM86 480h1v1h-1zM83 482h1v1h-1zM80 484h1v1h-1zM77 486h1v1h-1zM74 488h1v1h-1zM69 491h1v1h-1zM66 493h1v1h-1zM61 496h1v1h-1zM42 506h1v1h-1zM39 508h1v1h-1zM38 509h1v1h-1zM35 511h1v1h-1zM32 513h1v1h-1z" fill="#3cb371" shape-rendering="crispEdges"/>
<path d="M774 165h8v1h-8zM764 166h10v1h-10zM760 167h4v1h-4zM756 168h4v1h-4zM752 169h4v1h-4zM749 170h3v1h-3zM747 171h2v1h-2zM744 173h2v1h-2zM742 174h2v1h-2zM739 176h2v1h-2zM736 178h2v1h-2zM734 179h2v1h-2zM731 181h2v1h-2zM729 182h2v1h-2zM727 183h2v1h-2zM724 185h2v1h-2zM722 186h2v1h-2zM720 187h2v1h-2zM718 188h2v1h-2zM660 261h2v1h-2zM648 272h2v1h-2zM640 279h2v1h-2zM636 282h2v1h-2zM634 283h2v1h-2zM632 284h2v1h-2zM630 285h2v1h-2zM627 286h3v1h-3zM625 287h2v1h-2zM623 288h2v1h-2zM620 289h3v1h-3zM618 290h2v1h-2zM615 291h3v1h-3zM612 292h3v1h-3zM610 293h2v1h-2zM607 294h3v1h-3zM605 295h2v1h-2zM600 299h2v1h-2zM592 306h2v1h-2zM894 351h2v1h-2zM896 352h2v1h-2zM899 354h2v1h-2zM902 356h2v1h-2zM904 357h2v1h-2zM907 359h2v1h-2zM909 360h5v1h-5zM914 361h8v1h-8zM922 362h5v1h-5zM927 363h3v1h-3zM930 364h2v1h-2zM932 365h3v1h-3zM935 366h3v1h-3zM938 367h2v1h-2zM940 368h2v1h-2zM262 413h9v1h-9zM253 414h9v1h-9zM271 414h3v1h-3zM274 415h4v1h-4zM278 416h3v1h-3zM281 417h3v1h-3zM284 418h2v1h-2zM507 422h2v1h-2zM505 423h2v1h-2zM503 424h2v1h-2zM501 425h2v1h-2zM499 426h2v1h-2zM497 427h2v1h-2zM495 428h2v1h-2zM492 429h3v1h-3zM489 430h3v1h-3zM486 431h3v1h-3zM482 432h4v1h-4zM479 433h3v1h-3zM475 434h4v1h-4zM470 435h5v1h-5zM464 436h6v1h-6zM460 437h4v1h-4zM456 438h4v1h-4zM302 439h2v1h-2zM452 439h4v1h-4zM304 440h2v1h-2zM448 440h4v1h-4zM306 441h2v1h-2zM443 441h5v1h-5zM308 442h2v1h-2zM438 442h5v1h-5zM432 443h6v1h-6zM311 444h2v1h-2zM427 444h5v1h-5zM313 445h2v1h-2zM422 445h5v1h-5zM315 446h2v1h-2zM416 446h6v1h-6zM317 447h3v1h-3zM411 447h5v1h-5zM320 448h4v1h-4zM406 448h5v1h-5zM324 449h4v1h-4zM400 449h6v1h-6zM328 450h4v1h-4zM396 450h4v1h-4zM332 451h3v1h-3zM392 451h4v1h-4zM335 452h3v1h-3zM388 452h4v1h-4zM338 453h4v1h-4zM384 453h4v1h-4zM342 454h3v1h-3zM380 454h4v1h-4zM345 455h3v1h-3zM377 455h3v1h-3zM348 456h4v1h-4zM374 456h3v1h-3zM352 457h6v1h-6zM370 457h4v1h-4zM358 458h5v1h-5zM367 458h3v1h-3zM363 459h4v1h-4zM1373 546h17v1h-17zM1371 547h2v1h-2zM1369 548h2v1h-2zM1367 549h2v1h-2zM1365 550h2v1h-2zM1363 551h2v1h-2zM1361 552h2v1h-2zM1359 553h2v1h-2zM1357 554h2v1h-2zM1355 555h2v1h-2zM1353 556h2v1h-2zM1351 557h2v1h-2zM1348 559h2v1h-2zM1346 560h2v1h-2zM1344 561h2v1h-2zM1342 562h2v1h-2zM1339 564h2v1h-2zM1337 565h2v1h-2zM1335 566h2v1h-2zM1332 568h2v1h-2zM1330 569h2v1h-2zM1328 570h2v1h-2zM1326 571h2v1h-2zM1318 572h8v1h-8zM1302 573h16v1h-16zM1286 574h16v1h-16zM1274 575h12v1h-12zM1266 576h8v1h-8zM1261 577h5v1h-5zM781 166h1v1h-1zM782 167h1v2h-1zM783 169h1v2h-1zM784 171h1v2h-1zM746 172h1v1h-1zM785 173h1v2h-1zM741 175h1v1h-1zM786 175h1v2h-1zM738 177h1v1h-1zM787 177h1v2h-1zM788 179h1v2h-1zM733 180h1v1h-1zM789 181h1v2h-1zM790 183h1v2h-1zM726 184h1v1h-1zM791 185h1v2h-1zM792 187h1v2h-1zM717 189h1v1h-1zM793 189h1v2h-1zM716 190h1v1h-1zM715 191h1v1h-1zM794 191h1v2h-1zM714 192h1v1h-1zM713 193h1v1h-1zM795 193h1v2h-1zM712 194h1v1h-1zM711 195h1v1h-1zM796 195h1v2h-1zM710 196h1v1h-1zM709 197h1v2h-1zM797 197h1v1h-1zM798 198h1v2h-1zM708 199h1v1h-1zM707 200h1v1h-1zM799 200h1v1h-1zM706 201h1v1h-1zM800 201h1v2h-1zM705 202h1v1h-1zM704 203h1v1h-1zM801 203h1v1h-1zM703 204h1v1h-1zM802 204h1v2h-1zM702 205h1v1h-1zM701 206h1v1h-1zM803 206h1v1h-1zM700 207h1v2h-1zM804 207h1v2h-1zM699 209h1v2h-1zM805 209h1v1h-1zM806 210h1v2h-1zM698 211h1v2h-1zM807 212h1v1h-1zM697 213h1v2h-1zM808 213h1v2h-1zM696 215h1v1h-1zM809 215h1v1h-1zM695 216h1v2h-1zM810 216h1v2h-1zM694 218h1v2h-1zM811 218h1v1h-1zM812 219h1v2h-1zM693 220h1v2h-1zM813 221h1v1h-1zM692 222h1v2h-1zM814 222h1v1h-1zM815 223h1v2h-1zM691 224h1v2h-1zM816 225h1v1h-1zM690 226h1v1h-1zM817 226h1v1h-1zM689 227h1v2h-1zM818 227h1v2h-1zM688 229h1v2h-1zM819 229h1v1h-1zM820 230h1v1h-1zM687 231h1v2h-1zM821 231h1v2h-1zM686 233h1v2h-1zM822 233h1v1h-1zM823 234h1v1h-1zM685 235h1v1h-1zM824 235h1v2h-1zM684 236h1v1h-1zM683 237h1v1h-1zM825 237h1v1h-1zM682 238h1v1h-1zM826 238h1v1h-1zM681 239h1v2h-1zM827 239h1v2h-1zM680 241h1v1h-1zM828 241h1v1h-1zM679 242h1v1h-1zM829 242h1v1h-1zM678 243h1v1h-1zM830 243h1v1h-1zM677 244h1v1h-1zM831 244h1v1h-1zM676 245h1v1h-1zM832 245h1v1h-1zM675 246h1v1h-1zM833 246h1v1h-1zM674 247h1v1h-1zM834 247h1v1h-1zM673 248h1v2h-1zM835 248h1v1h-1zM836 249h1v1h-1zM672 250h1v1h-1zM837 250h1v1h-1zM671 251h1v1h-1zM838 251h1v1h-1zM670 252h1v1h-1zM839 252h1v1h-1zM669 253h1v1h-1zM840 253h1v1h-1zM668 254h1v1h-1zM841 254h1v1h-1zM667 255h1v1h-1zM842 255h1v1h-1zM666 256h1v1h-1zM843 256h1v1h-1zM665 257h1v1h-1zM844 257h1v1h-1zM664 258h1v1h-1zM845 258h1v2h-1zM663 259h1v1h-1zM662 260h1v1h-1zM846 260h1v2h-1zM659 262h1v1h-1zM847 262h1v3h-1zM658 263h1v1h-1zM657 264h1v1h-1zM656 265h1v1h-1zM848 265h1v2h-1zM655 266h1v1h-1zM654 267h1v1h-1zM849 267h1v2h-1zM653 268h1v1h-1zM652 269h1v1h-1zM850 269h1v3h-1zM651 270h1v1h-1zM650 271h1v1h-1zM851 272h1v2h-1zM647 273h1v1h-1zM646 274h1v1h-1zM852 274h1v3h-1zM645 275h1v1h-1zM644 276h1v1h-1zM643 277h1v1h-1zM853 277h1v2h-1zM642 278h1v1h-1zM854 279h1v3h-1zM639 280h1v1h-1zM638 281h1v1h-1zM855 282h1v2h-1zM856 284h1v3h-1zM857 287h1v2h-1zM858 289h1v2h-1zM859 291h1v3h-1zM860 294h1v2h-1zM604 296h1v1h-1zM861 296h1v3h-1zM603 297h1v1h-1zM602 298h1v1h-1zM862 299h1v2h-1zM599 300h1v1h-1zM598 301h1v1h-1zM863 301h1v2h-1zM597 302h1v1h-1zM596 303h1v1h-1zM864 303h1v2h-1zM595 304h1v1h-1zM594 305h1v1h-1zM865 305h1v2h-1zM591 307h1v1h-1zM866 307h1v2h-1zM590 308h1v1h-1zM589 309h1v1h-1zM867 309h1v2h-1zM588 310h1v1h-1zM587 311h1v1h-1zM868 311h1v2h-1zM586 312h1v1h-1zM585 313h1v1h-1zM869 313h1v2h-1zM584 314h1v1h-1zM583 315h1v1h-1zM870 315h1v2h-1zM582 316h1v1h-1zM581 317h1v2h-1zM871 317h1v2h-1zM580 319h1v1h-1zM872 319h1v2h-1zM579 320h1v1h-1zM578 321h1v1h-1zM873 321h1v2h-1zM577 322h1v1h-1zM576 323h1v1h-1zM874 323h1v2h-1zM575 324h1v1h-1zM574 325h1v1h-1zM875 325h1v2h-1zM573 326h1v1h-1zM572 327h1v2h-1zM876 327h1v2h-1zM571 329h1v2h-1zM877 329h1v2h-1zM570 331h1v2h-1zM878 331h1v1h-1zM879 332h1v2h-1zM569 333h1v2h-1zM880 334h1v1h-1zM568 335h1v1h-1zM881 335h1v1h-1zM567 336h1v2h-1zM882 336h1v1h-1zM883 337h1v2h-1zM566 338h1v2h-1zM884 339h1v1h-1zM565 340h1v2h-1zM885 340h1v1h-1zM886 341h1v1h-1zM564 342h1v2h-1zM887 342h1v2h-1zM563 344h1v2h-1zM888 344h1v1h-1zM889 345h1v1h-1zM562 346h1v1h-1zM890 346h1v1h-1zM561 347h1v2h-1zM891 347h1v2h-1zM560 349h1v2h-1zM892 349h1v1h-1zM893 350h1v1h-1zM559 351h1v2h-1zM558 353h1v2h-1zM898 353h1v1h-1zM557 355h1v1h-1zM901 355h1v1h-1zM556 356h1v2h-1zM555 358h1v2h-1zM906 358h1v1h-1zM554 360h1v1h-1zM553 361h1v2h-1zM552 363h1v1h-1zM551 364h1v2h-1zM550 366h1v2h-1zM549 368h1v1h-1zM548 369h1v2h-1zM941 369h1v1h-1zM942 370h1v3h-1zM547 371h1v2h-1zM546 373h1v1h-1zM943 373h1v3h-1zM545 374h1v2h-1zM544 376h1v1h-1zM944 376h1v3h-1zM543 377h1v2h-1zM542 379h1v2h-1zM945 379h1v3h-1zM541 381h1v1h-1zM540 382h1v2h-1zM946 382h1v3h-1zM539 384h1v1h-1zM538 385h1v2h-1zM947 385h1v3h-1zM537 387h1v1h-1zM536 388h1v1h-1zM948 388h1v3h-1zM535 389h1v2h-1zM534 391h1v1h-1zM949 391h1v3h-1zM533 392h1v2h-1zM532 394h1v1h-1zM950 394h1v3h-1zM531 395h1v2h-1zM530 397h1v1h-1zM951 397h1v3h-1zM529 398h1v1h-1zM528 399h1v2h-1zM952 400h1v3h-1zM527 401h1v1h-1zM526 402h1v2h-1zM953 403h1v3h-1zM525 404h1v1h-1zM524 405h1v1h-1zM523 406h1v1h-1zM954 406h1v3h-1zM522 407h1v1h-1zM521 408h1v1h-1zM520 409h1v1h-1zM955 409h1v3h-1zM519 410h1v1h-1zM518 411h1v1h-1zM517 412h1v2h-1zM956 412h1v3h-1zM516 414h1v1h-1zM253 415h1v1h-1zM515 415h1v1h-1zM957 415h1v3h-1zM252 416h1v3h-1zM514 416h1v1h-1zM513 417h1v1h-1zM512 418h1v1h-1zM958 418h1v3h-1zM251 419h1v3h-1zM286 419h1v1h-1zM511 419h1v1h-1zM287 420h1v2h-1zM510 420h1v1h-1zM509 421h1v1h-1zM959 421h1v2h-1zM250 422h1v3h-1zM288 422h1v1h-1zM289 423h1v1h-1zM960 423h1v3h-1zM290 424h1v1h-1zM249 425h1v3h-1zM291 425h1v2h-1zM961 426h1v3h-1zM292 427h1v1h-1zM248 428h1v3h-1zM293 428h1v1h-1zM294 429h1v1h-1zM962 429h1v2h-1zM295 430h1v2h-1zM247 431h1v3h-1zM963 431h1v3h-1zM296 432h1v1h-1zM297 433h1v1h-1zM246 434h1v3h-1zM298 434h1v1h-1zM964 434h1v3h-1zM299 435h1v2h-1zM245 437h1v2h-1zM300 437h1v1h-1zM965 437h1v2h-1zM301 438h1v1h-1zM244 439h1v3h-1zM966 439h1v3h-1zM243 442h1v3h-1zM967 442h1v3h-1zM310 443h1v1h-1zM242 445h1v3h-1zM968 445h1v2h-1zM969 447h1v3h-1zM241 448h1v3h-1zM970 450h1v3h-1zM240 451h1v3h-1zM971 453h1v2h-1zM239 454h1v3h-1zM972 455h1v3h-1zM238 457h1v3h-1zM973 458h1v3h-1zM237 460h1v2h-1zM974 461h1v2h-1zM236 462h1v2h-1zM975 463h1v3h-1zM235 464h1v2h-1zM234 466h1v2h-1zM976 466h1v3h-1zM233 468h1v2h-1zM977 469h1v2h-1zM232 470h1v1h-1zM231 471h1v2h-1zM978 471h1v3h-1zM230 473h1v2h-1zM979 474h1v3h-1zM229 475h1v2h-1zM228 477h1v2h-1zM980 477h1v2h-1zM227 479h1v2h-1zM981 479h1v3h-1zM226 481h1v1h-1zM225 482h1v2h-1zM982 482h1v2h-1zM224 484h1v2h-1zM983 484h1v3h-1zM223 486h1v2h-1zM984 487h1v3h-1zM222 488h1v2h-1zM221 490h1v1h-1zM985 490h1v2h-1zM220 491h1v2h-1zM986 492h1v3h-1zM219 493h1v2h-1zM218 495h1v2h-1zM987 495h1v3h-1zM217 497h1v2h-1zM988 498h1v2h-1zM216 499h1v2h-1zM989 500h1v3h-1zM215 501h1v2h-1zM214 503h1v2h-1zM990 503h1v2h-1zM213 505h1v2h-1zM991 505h1v2h-1zM212 507h1v2h-1zM992 507h1v2h-1zM211 509h1v2h-1zM993 509h1v3h-1zM210 511h1v2h-1zM994 512h1v2h-1zM209 513h1v2h-1zM995 514h1v2h-1zM208 515h1v2h-1zM996 516h1v2h-1zM207 517h1v2h-1zM997 518h1v3h-1zM206 519h1v2h-1zM205 521h1v3h-1zM998 521h1v2h-1zM999 523h1v2h-1zM204 524h1v2h-1zM1000 525h1v2h-1zM203 526h1v2h-1zM1001 527h1v3h-1zM202 528h1v2h-1zM201 530h1v2h-1zM1002 530h1v2h-1zM200 532h1v2h-1zM1003 532h1v2h-1zM199 534h1v2h-1zM1004 534h1v2h-1zM198 536h1v2h-1zM1005 536h1v2h-1zM197 538h1v3h-1zM1006 538h1v2h-1zM1007 540h1v2h-1zM196 541h1v2h-1zM1008 542h1v2h-1zM195 543h1v2h-1zM1009 544h1v2h-1zM194 545h1v2h-1zM1010 546h1v1h-1zM193 547h1v2h-1zM1011 547h1v2h-1zM192 549h1v2h-1zM1012 549h1v2h-1zM191 551h1v2h-1zM1013 551h1v2h-1zM190 553h1v2h-1zM1014 553h1v2h-1zM189 555h1v2h-1zM1015 555h1v2h-1zM188 557h1v2h-1zM1016 557h1v1h-1zM1017 558h1v2h-1zM1350 558h1v1h-1zM187 559h1v2h-1zM1018 560h1v2h-1zM186 561h1v2h-1zM1019 562h1v2h-1zM185 563h1v1h-1zM1341 563h1v1h-1zM184 564h1v2h-1zM1020 564h1v2h-1zM183 566h1v2h-1zM1021 566h1v1h-1zM1022 567h1v2h-1zM1334 567h1v1h-1zM182 568h1v2h-1zM1023 569h1v2h-1zM181 570h1v1h-1zM180 571h1v2h-1zM1024 571h1v1h-1zM1025 572h1v2h-1zM179 573h1v2h-1zM1026 574h1v1h-1zM178 575h1v2h-1zM1027 575h1v2h-1zM177 577h1v1h-1zM1028 577h1v2h-1zM176 578h1v2h-1zM1260 578h1v2h-1zM1029 579h1v1h-1z" fill="#3cb371" shape-rendering="crispEdges"/>
<g shape-rendering="crispEdges"><rect x="-3" y="330" width="1" height="40" fill="#000" /><rect x="-8" y="333" width="11" height="33" fill="#000" /><rect x="13" y="337" width="1" height="48" fill="#000" /><rect x="8" y="342" width="11" height="24" fill="#000" /><rect x="9" y="343" width="9" height="22" fill="#fff" /><rect x="29" y="307" width="1" height="37" fill="#000" /><rect x="24" y="308" width="11" height="34" fill="#000" /><rect x="25" y="309" width="9" height="32" fill="#fff" /><rect x="45" y="304" width="1" height="41" fill="#000" /><rect x="40" y="307" width="11" height="37" fill="#000" /><rect x="61" y="316" width="1" height="82" fill="#000" /><rect x="56" y="340" width="11" height="46" fill="#000" /><rect x="77" y="370" width="1" height="61" fill="#000" /><rect x="72" y="383" width="11" height="17" fill="#000" /><rect x="93" y="378" width="1" height="35" fill="#000" /><rect x="88" y="399" width="11" height="7" fill="#000" /><rect x="109" y="357" width="1" height="65" fill="#000" /><rect x="104" y="368" width="11" height="37" fill="#000" /><rect x="105" y="369" width="9" height="35" fill="#fff" /><rect x="125" y="367" width="1" height="43" fill="#000" /><rect x="120" y="368" width="11" height="20" fill="#000" /><rect x="141" y="375" width="1" height="21" fill="#000" /><rect x="136" y="379" width="11" height="8" fill="#000" /><rect x="137" y="380" width="9" height="6" fill="#fff" /><rect x="157" y="368" width="1" height="18" fill="#000" /><rect x="152" y="377" width="11" height="5" fill="#000" /><rect x="173" y="318" width="1" height="63" fill="#000" /><rect x="168" y="341" width="11" height="17" fill="#000" /><rect x="169" y="342" width="9" height="15" fill="#fff" /><rect x="189" y="327" width="1" height="54" fill="#000" /><rect x="184" y="342" width="11" height="24" fill="#000" /><rect x="205" y="344" width="1" height="103" fill="#000" /><rect x="200" y="365" width="11" height="12" fill="#000" /><rect x="221" y="363" width="1" height="39" fill="#000" /><rect x="216" y="369" width="11" height="9" fill="#000" /><rect x="217" y="370" width="9" height="7" fill="#fff" /><rect x="237" y="362" width="1" height="46" fill="#000" /><rect x="232" y="368" width="11" height="19" fill="#000" /><rect x="253" y="355" width="1" height="38" fill="#000" /><rect x="248" y="358" width="11" height="29" fill="#000" /><rect x="249" y="359" width="9" height="27" fill="#fff" /><rect x="269" y="345" width="1" height="16" fill="#000" /><rect x="264" y="348" width="11" height="8" fill="#000" /><rect x="265" y="349" width="9" height="6" fill="#fff" /><rect x="285" y="290" width="1" height="86" fill="#000" /><rect x="280" y="292" width="11" height="58" fill="#000" /><rect x="281" y="293" width="9" height="56" fill="#fff" /><rect x="301" y="186" width="1" height="117" fill="#000" /><rect x="296" y="219" width="11" height="74" fill="#000" /><rect x="297" y="220" width="9" height="72" fill="#fff" /><rect x="317" y="207" width="1" height="63" fill="#000" /><rect x="312" y="217" width="11" height="17" fill="#000" /><rect x="333" y="226" width="1" height="54" fill="#000" /><rect x="328" y="235" width="11" height="28" fill="#000" /><rect x="349" y="221" width="1" height="52" fill="#000" /><rect x="344" y="241" width="11" height="23" fill="#000" /><rect x="345" y="242" width="9" height="21" fill="#fff" /><rect x="365" y="233" width="1" height="33" fill="#000" /><rect x="360" y="240" width="11" height="19" fill="#000" /><rect x="381" y="255" width="1" height="38" fill="#000" /><rect x="376" y="258" width="11" height="21" fill="#000" /><rect x="397" y="204" width="1" height="68" fill="#000" /><rect x="392" y="226" width="11" height="13" fill="#000" /><rect x="393" y="227" width="9" height="11" fill="#fff" /><rect x="413" y="133" width="1" height="112" fill="#000" /><rect x="408" y="186" width="11" height="38" fill="#000" /><rect x="409" y="187" width="9" height="36" fill="#fff" /><rect x="429" y="159" width="1" height="36" fill="#000" /><rect x="424" y="187" width="11" height="2" fill="#000" /><rect x="445" y="157" width="1" height="33" fill="#000" /><rect x="440" y="160" width="11" height="26" fill="#000" /><rect x="441" y="161" width="9" height="24" fill="#fff" /><rect x="461" y="135" width="1" height="31" fill="#000" /><rect x="456" y="146" width="11" height="15" fill="#000" /><rect x="457" y="147" width="9" height="13" fill="#fff" /><rect x="477" y="99" width="1" height="56" fill="#000" /><rect x="472" y="109" width="11" height="38" fill="#000" /><rect x="473" y="110" width="9" height="36" fill="#fff" /><rect x="493" y="104" width="1" height="23" fill="#000" /><rect x="488" y="108" width="11" height="19" fill="#000" /><rect x="509" y="73" width="1" height="64" fill="#000" /><rect x="504" y="111" width="11" height="23" fill="#000" /><rect x="505" y="112" width="9" height="21" fill="#fff" /><rect x="525" y="87" width="1" height="38" fill="#000" /><rect x="520" y="112" width="11" height="6" fill="#000" /><rect x="541" y="105" width="1" height="43" fill="#000" /><rect x="536" y="116" width="11" height="31" fill="#000" /><rect x="557" y="106" width="1" height="41" fill="#000" /><rect x="552" y="133" width="11" height="13" fill="#000" /><rect x="553" y="134" width="9" height="11" fill="#fff" /><rect x="573" y="99" width="1" height="40" fill="#000" /><rect x="568" y="105" width="11" height="28" fill="#000" /><rect x="569" y="106" width="9" height="26" fill="#fff" /><rect x="589" y="85" width="1" height="24" fill="#000" /><rect x="584" y="93" width="11" height="12" fill="#000" /><rect x="585" y="94" width="9" height="10" fill="#fff" /><rect x="605" y="54" width="1" height="39" fill="#000" /><rect x="600" y="77" width="11" height="16" fill="#000" /><rect x="601" y="78" width="9" height="14" fill="#fff" /><rect x="621" y="111" width="1" height="70" fill="#000" /><rect x="616" y="124" width="11" height="38" fill="#000" /><rect x="637" y="91" width="1" height="73" fill="#000" /><rect x="632" y="125" width="11" height="36" fill="#000" /><rect x="633" y="126" width="9" height="34" fill="#fff" /><rect x="653" y="123" width="1" height="41" fill="#000" /><rect x="648" y="125" width="11" height="26" fill="#000" /><rect x="669" y="115" width="1" height="42" fill="#000" /><rect x="664" y="134" width="11" height="20" fill="#000" /><rect x="665" y="135" width="9" height="18" fill="#fff" /><rect x="685" y="98" width="1" height="43" fill="#000" /><rect x="680" y="121" width="11" height="13" fill="#000" /><rect x="681" y="122" width="9" height="11" fill="#fff" /><rect x="701" y="110" width="1" height="19" fill="#000" /><rect x="696" y="121" width="11" height="5" fill="#000" /><rect x="717" y="122" width="1" height="45" fill="#000" /><rect x="712" y="127" width="11" height="26" fill="#000" /><rect x="733" y="89" width="1" height="63" fill="#000" /><rect x="728" y="107" width="11" height="45" fill="#000" /><rect x="729" y="108" width="9" height="43" fill="#fff" /><rect x="749" y="84" width="1" height="55" fill="#000" /><rect x="744" y="107" width="11" height="29" fill="#000" /><rect x="765" y="111" width="1" height="37" fill="#000" /><rect x="760" y="124" width="11" height="14" fill="#000" /><rect x="761" y="125" width="9" height="12" fill="#fff" /><rect x="781" y="108" width="1" height="40" fill="#000" /><rect x="776" y="121" width="11" height="21" fill="#000" /><rect x="797" y="130" width="1" height="120" fill="#000" /><rect x="792" y="142" width="11" height="98" fill="#000" /><rect x="813" y="218" width="1" height="47" fill="#000" /><rect x="808" y="240" width="11" height="24" fill="#000" /><rect x="829" y="241" width="1" height="27" fill="#000" /><rect x="824" y="245" width="11" height="20" fill="#000" /><rect x="825" y="246" width="9" height="18" fill="#fff" /><rect x="845" y="177" width="1" height="81" fill="#000" /><rect x="840" y="199" width="11" height="57" fill="#000" /><rect x="861" y="224" width="1" height="137" fill="#000" /><rect x="856" y="256" width="11" height="94" fill="#000" /><rect x="877" y="333" width="1" height="40" fill="#000" /><rect x="872" y="346" width="11" height="5" fill="#000" /><rect x="873" y="347" width="9" height="3" fill="#fff" /><rect x="893" y="287" width="1" height="58" fill="#000" /><rect x="888" y="317" width="11" height="28" fill="#000" /><rect x="889" y="318" width="9" height="26" fill="#fff" /><rect x="909" y="278" width="1" height="47" fill="#000" /><rect x="904" y="281" width="11" height="36" fill="#000" /><rect x="905" y="282" width="9" height="34" fill="#fff" /><rect x="925" y="243" width="1" height="50" fill="#000" /><rect x="920" y="261" width="11" height="21" fill="#000" /><rect x="921" y="262" width="9" height="19" fill="#fff" /><rect x="941" y="257" width="1" height="24" fill="#000" /><rect x="936" y="262" width="11" height="2" fill="#000" /><rect x="957" y="453" width="1" height="108" fill="#000" /><rect x="952" y="479" width="11" height="44" fill="#000" /><rect x="953" y="480" width="9" height="42" fill="#fff" /><rect x="973" y="444" width="1" height="59" fill="#000" /><rect x="968" y="478" width="11" height="18" fill="#000" /><rect x="989" y="482" width="1" height="23" fill="#000" /><rect x="984" y="483" width="11" height="13" fill="#000" /><rect x="985" y="484" width="9" height="11" fill="#fff" /><rect x="1005" y="456" width="1" height="46" fill="#000" /><rect x="1000" y="482" width="11" height="15" fill="#000" /><rect x="1021" y="487" width="1" height="64" fill="#000" /><rect x="1016" y="496" width="11" height="41" fill="#000" /><rect x="1037" y="516" width="1" height="25" fill="#000" /><rect x="1032" y="531" width="11" height="5" fill="#000" /><rect x="1033" y="532" width="9" height="3" fill="#fff" /><rect x="1053" y="510" width="1" height="22" fill="#000" /><rect x="1048" y="518" width="11" height="13" fill="#000" /><rect x="1049" y="519" width="9" height="11" fill="#fff" /><rect x="1069" y="411" width="1" height="73" fill="#000" /><rect x="1064" y="428" width="11" height="24" fill="#000" /><rect x="1085" y="442" width="1" height="55" fill="#000" /><rect x="1080" y="452" width="11" height="41" fill="#000" /><rect x="1101" y="484" width="1" height="33" fill="#000" /><rect x="1096" y="492" width="11" height="10" fill="#000" /><rect x="1117" y="492" width="1" height="58" fill="#000" /><rect x="1112" y="500" width="11" height="43" fill="#000" /><rect x="1133" y="524" width="1" height="44" fill="#000" /><rect x="1128" y="526" width="11" height="17" fill="#000" /><rect x="1129" y="527" width="9" height="15" fill="#fff" /><rect x="1149" y="512" width="1" height="44" fill="#000" /><rect x="1144" y="522" width="11" height="5" fill="#000" /><rect x="1145" y="523" width="9" height="3" fill="#fff" /><rect x="1165" y="503" width="1" height="23" fill="#000" /><rect x="1160" y="509" width="11" height="13" fill="#000" /><rect x="1161" y="510" width="9" height="11" fill="#fff" /><rect x="1181" y="423" width="1" height="65" fill="#000" /><rect x="1176" y="456" width="11" height="7" fill="#000" /><rect x="1177" y="457" width="9" height="5" fill="#fff" /><rect x="1197" y="396" width="1" height="62" fill="#000" /><rect x="1192" y="412" width="11" height="44" fill="#000" /><rect x="1193" y="413" width="9" height="42" fill="#fff" /><rect x="1213" y="401" width="1" height="30" fill="#000" /><rect x="1208" y="411" width="11" height="4" fill="#000" /><rect x="1229" y="397" width="1" height="36" fill="#000" /><rect x="1224" y="402" width="11" height="12" fill="#000" /><rect x="1225" y="403" width="9" height="10" fill="#fff" /><rect x="1245" y="387" width="1" height="25" fill="#000" /><rect x="1240" y="398" width="11" height="5" fill="#000" /><rect x="1241" y="399" width="9" height="3" fill="#fff" /><rect x="1261" y="381" width="1" height="27" fill="#000" /><rect x="1256" y="384" width="11" height="14" fill="#000" /><rect x="1257" y="385" width="9" height="12" fill="#fff" /><rect x="1277" y="383" width="1" height="53" fill="#000" /><rect x="1272" y="383" width="11" height="47" fill="#000" /><rect x="1293" y="441" width="1" height="52" fill="#000" /><rect x="1288" y="449" width="11" height="36" fill="#000" /><rect x="1289" y="450" width="9" height="34" fill="#fff" /><rect x="1309" y="396" width="1" height="63" fill="#000" /><rect x="1304" y="418" width="11" height="30" fill="#000" /><rect x="1305" y="419" width="9" height="28" fill="#fff" /><rect x="1325" y="390" width="1" height="38" fill="#000" /><rect x="1320" y="402" width="11" height="15" fill="#000" /><rect x="1321" y="403" width="9" height="13" fill="#fff" /><rect x="1341" y="403" width="1" height="24" fill="#000" /><rect x="1336" y="408" width="11" height="6" fill="#000" /><rect x="1357" y="358" width="1" height="66" fill="#000" /><rect x="1352" y="376" width="11" height="39" fill="#000" /><rect x="1353" y="377" width="9" height="37" fill="#fff" /><rect x="1373" y="363" width="1" height="69" fill="#000" /><rect x="1368" y="376" width="11" height="48" fill="#000" /><rect x="1389" y="380" width="1" height="49" fill="#000" /><rect x="1384" y="406" width="11" height="19" fill="#000" /><rect x="1385" y="407" width="9" height="17" fill="#fff" /></g>
</g>
<rect x="1310" y="437" width="87" height="17" fill="#00ff00" />
<rect x="-2.5" y="367.5" width="4" height="4" fill="#fff" stroke="#ff0000" stroke-width="1" shape-rendering="crispEdges"/>
<rect x="-2.5" y="445.5" width="4" height="4" fill="#fff" stroke="#32cd32" stroke-width="1" shape-rendering="crispEdges"/>
<rect x="-2.5" y="482.5" width="4" height="4" fill="#fff" stroke="#0000ff" stroke-width="1" shape-rendering="crispEdges"/>
<rect x="-2.5" y="517.5" width="4" height="4" fill="#fff" stroke="#0000ff" stroke-width="1" shape-rendering="crispEdges"/>
<rect x="1619.5" y="336.5" width="4" height="4" fill="#fff" stroke="#ff0000" stroke-width="1" shape-rendering="crispEdges"/>
<rect x="1619.5" y="367.5" width="4" height="4" fill="#fff" stroke="#ff0000" stroke-width="1" shape-rendering="crispEdges"/>
<rect x="1619.5" y="445.5" width="4" height="4" fill="#fff" stroke="#32cd32" stroke-width="1" shape-rendering="crispEdges"/>
<rect x="1619.5" y="482.5" width="4" height="4" fill="#fff" stroke="#0000ff" stroke-width="1" shape-rendering="crispEdges"/>
<rect x="1619.5" y="517.5" width="4" height="4" fill="#fff" stroke="#0000ff" stroke-width="1" shape-rendering="crispEdges"/>
<polygon points="1406,28 1417,28 1411.5,33.5" fill="#c0c0c0"/>
<g shape-rendering="crispEdges">
<rect x="0" y="27" width="1625" height="1" fill="#000" />
<rect x="1624" y="27" width="1" height="554" fill="#000" />
<rect x="0" y="580" width="1625" height="1" fill="#000" />
<rect x="0" y="582" width="1625" height="1" fill="#000" />
<rect x="1624" y="582" width="1" height="184" fill="#000" />
<rect x="0" y="765" width="1625" height="1" fill="#000" />
<rect x="0" y="767" width="1625" height="1" fill="#000" />
<rect x="1624" y="767" width="1" height="161" fill="#000" />
<rect x="0" y="927" width="1625" height="1" fill="#000" />
<rect x="1625" y="926" width="1" height="1" fill="#000" />
<rect x="1670" y="25" width="1" height="924" fill="#e3e3e3" />
<rect x="0" y="948" width="1671" height="1" fill="#e3e3e3" />
<rect x="1625" y="49" width="2" height="1" fill="#000" />
<rect x="1625" y="82" width="2" height="1" fill="#000" />
<rect x="1625" y="115" width="2" height="1" fill="#000" />
<rect x="1625" y="148" width="2" height="1" fill="#000" />
<rect x="1625" y="181" width="2" height="1" fill="#000" />
<rect x="1625" y="214" width="2" height="1" fill="#000" />
<rect x="1625" y="247" width="2" height="1" fill="#000" />
<rect x="1625" y="280" width="2" height="1" fill="#000" />
<rect x="1625" y="313" width="2" height="1" fill="#000" />
<rect x="1625" y="346" width="2" height="1" fill="#000" />
<rect x="1625" y="379" width="2" height="1" fill="#000" />
<rect x="1625" y="412" width="2" height="1" fill="#000" />
<rect x="1625" y="445" width="2" height="1" fill="#000" />
<rect x="1625" y="478" width="2" height="1" fill="#000" />
<rect x="1625" y="511" width="2" height="1" fill="#000" />
<rect x="1625" y="544" width="2" height="1" fill="#000" />
<rect x="1625" y="577" width="2" height="1" fill="#000" />
<rect x="1625" y="584" width="1" height="1" fill="#000" />
<rect x="1625" y="664" width="1" height="1" fill="#000" />
<rect x="1625" y="764" width="1" height="1" fill="#000" />
<rect x="1625" y="769" width="1" height="1" fill="#000" />
<rect x="-3" y="928" width="1" height="3" fill="#000" />
<rect x="61" y="928" width="1" height="3" fill="#000" />
<rect x="125" y="928" width="1" height="3" fill="#000" />
<rect x="189" y="928" width="1" height="3" fill="#000" />
<rect x="253" y="928" width="1" height="3" fill="#000" />
<rect x="317" y="928" width="1" height="3" fill="#000" />
<rect x="381" y="928" width="1" height="3" fill="#000" />
<rect x="445" y="928" width="1" height="3" fill="#000" />
<rect x="509" y="928" width="1" height="3" fill="#000" />
<rect x="573" y="928" width="1" height="3" fill="#000" />
<rect x="637" y="928" width="1" height="3" fill="#000" />
<rect x="701" y="928" width="1" height="3" fill="#000" />
<rect x="765" y="928" width="1" height="3" fill="#000" />
<rect x="829" y="928" width="1" height="3" fill="#000" />
<rect x="893" y="928" width="1" height="3" fill="#000" />
<rect x="957" y="928" width="1" height="3" fill="#000" />
<rect x="1021" y="928" width="1" height="3" fill="#000" />
<rect x="1085" y="928" width="1" height="3" fill="#000" />
<rect x="1149" y="928" width="1" height="3" fill="#000" />
<rect x="1213" y="928" width="1" height="3" fill="#000" />
<rect x="1277" y="928" width="1" height="3" fill="#000" />
<rect x="1341" y="928" width="1" height="3" fill="#000" />
</g>
<g shape-rendering="crispEdges">
<rect x="12" y="645" width="2" height="19" fill="#c0c0c0" />
<rect x="28" y="636" width="2" height="28" fill="#c0c0c0" />
<rect x="44" y="631" width="2" height="33" fill="#c0c0c0" />
<rect x="60" y="632" width="2" height="32" fill="#c0c0c0" />
<rect x="76" y="634" width="2" height="30" fill="#c0c0c0" />
<rect x="92" y="637" width="2" height="27" fill="#c0c0c0" />
<rect x="108" y="636" width="2" height="28" fill="#c0c0c0" />
<rect x="124" y="637" width="2" height="27" fill="#c0c0c0" />
<rect x="140" y="638" width="2" height="26" fill="#c0c0c0" />
<rect x="156" y="639" width="2" height="25" fill="#c0c0c0" />
<rect x="172" y="635" width="2" height="29" fill="#c0c0c0" />
<rect x="188" y="636" width="2" height="28" fill="#c0c0c0" />
<rect x="204" y="638" width="2" height="26" fill="#c0c0c0" />
<rect x="220" y="639" width="2" height="25" fill="#c0c0c0" />
<rect x="236" y="642" width="2" height="22" fill="#c0c0c0" />
<rect x="252" y="642" width="2" height="22" fill="#c0c0c0" />
<rect x="268" y="640" width="2" height="24" fill="#c0c0c0" />
<rect x="284" y="636" width="2" height="28" fill="#c0c0c0" />
<rect x="300" y="626" width="2" height="38" fill="#c0c0c0" />
<rect x="316" y="620" width="2" height="44" fill="#c0c0c0" />
<rect x="332" y="618" width="2" height="46" fill="#c0c0c0" />
<rect x="348" y="616" width="2" height="48" fill="#c0c0c0" />
<rect x="364" y="616" width="2" height="48" fill="#c0c0c0" />
<rect x="380" y="618" width="2" height="46" fill="#c0c0c0" />
<rect x="396" y="616" width="2" height="48" fill="#c0c0c0" />
<rect x="412" y="611" width="2" height="53" fill="#c0c0c0" />
<rect x="428" y="608" width="2" height="56" fill="#c0c0c0" />
<rect x="444" y="604" width="2" height="60" fill="#c0c0c0" />
<rect x="460" y="601" width="2" height="63" fill="#c0c0c0" />
<rect x="476" y="596" width="2" height="68" fill="#c0c0c0" />
<rect x="492" y="594" width="2" height="70" fill="#c0c0c0" />
<rect x="508" y="592" width="2" height="72" fill="#c0c0c0" />
<rect x="524" y="592" width="2" height="72" fill="#c0c0c0" />
<rect x="540" y="595" width="2" height="69" fill="#c0c0c0" />
<rect x="556" y="598" width="2" height="66" fill="#c0c0c0" />
<rect x="572" y="596" width="2" height="68" fill="#c0c0c0" />
<rect x="588" y="597" width="2" height="67" fill="#c0c0c0" />
<rect x="604" y="595" width="2" height="69" fill="#c0c0c0" />
<rect x="620" y="603" width="2" height="61" fill="#c0c0c0" />
<rect x="636" y="606" width="2" height="58" fill="#c0c0c0" />
<rect x="652" y="612" width="2" height="52" fill="#c0c0c0" />
<rect x="668" y="616" width="2" height="48" fill="#c0c0c0" />
<rect x="684" y="618" width="2" height="46" fill="#c0c0c0" />
<rect x="700" y="620" width="2" height="44" fill="#c0c0c0" />
<rect x="716" y="625" width="2" height="39" fill="#c0c0c0" />
<rect x="732" y="626" width="2" height="38" fill="#c0c0c0" />
<rect x="748" y="629" width="2" height="35" fill="#c0c0c0" />
<rect x="764" y="631" width="2" height="33" fill="#c0c0c0" />
<rect x="780" y="634" width="2" height="30" fill="#c0c0c0" />
<rect x="796" y="645" width="2" height="19" fill="#c0c0c0" />
<rect x="812" y="656" width="2" height="8" fill="#c0c0c0" />
<rect x="828" y="663" width="2" height="1" fill="#c0c0c0" />
<rect x="844" y="664" width="2" height="6" fill="#c0c0c0" />
<rect x="860" y="664" width="2" height="20" fill="#c0c0c0" />
<rect x="876" y="664" width="2" height="28" fill="#c0c0c0" />
<rect x="892" y="664" width="2" height="34" fill="#c0c0c0" />
<rect x="908" y="664" width="2" height="34" fill="#c0c0c0" />
<rect x="924" y="664" width="2" height="32" fill="#c0c0c0" />
<rect x="940" y="664" width="2" height="30" fill="#c0c0c0" />
<rect x="956" y="664" width="2" height="48" fill="#c0c0c0" />
<rect x="972" y="664" width="2" height="60" fill="#c0c0c0" />
<rect x="988" y="664" width="2" height="70" fill="#c0c0c0" />
<rect x="1004" y="664" width="2" height="78" fill="#c0c0c0" />
<rect x="1020" y="664" width="2" height="86" fill="#c0c0c0" />
<rect x="1036" y="664" width="2" height="90" fill="#c0c0c0" />
<rect x="1052" y="664" width="2" height="92" fill="#c0c0c0" />
<rect x="1068" y="664" width="2" height="88" fill="#c0c0c0" />
<rect x="1084" y="664" width="2" height="86" fill="#c0c0c0" />
<rect x="1100" y="664" width="2" height="84" fill="#c0c0c0" />
<rect x="1116" y="664" width="2" height="86" fill="#c0c0c0" />
<rect x="1132" y="664" width="2" height="84" fill="#c0c0c0" />
<rect x="1148" y="664" width="2" height="82" fill="#c0c0c0" />
<rect x="1164" y="664" width="2" height="78" fill="#c0c0c0" />
<rect x="1180" y="664" width="2" height="70" fill="#c0c0c0" />
<rect x="1196" y="664" width="2" height="58" fill="#c0c0c0" />
<rect x="1212" y="664" width="2" height="50" fill="#c0c0c0" />
<rect x="1228" y="664" width="2" height="42" fill="#c0c0c0" />
<rect x="1244" y="664" width="2" height="34" fill="#c0c0c0" />
<rect x="1260" y="664" width="2" height="26" fill="#c0c0c0" />
<rect x="1276" y="664" width="2" height="24" fill="#c0c0c0" />
<rect x="1292" y="664" width="2" height="23" fill="#c0c0c0" />
<rect x="1308" y="664" width="2" height="20" fill="#c0c0c0" />
<rect x="1324" y="664" width="2" height="16" fill="#c0c0c0" />
<rect x="1340" y="664" width="2" height="14" fill="#c0c0c0" />
<rect x="1356" y="664" width="2" height="8" fill="#c0c0c0" />
<rect x="1372" y="664" width="2" height="8" fill="#c0c0c0" />
<rect x="1388" y="664" width="2" height="7" fill="#c0c0c0" />
</g>
<path d="M598 595h2v1h-2zM603 595h3v1h-3zM609 595h3v1h-3zM573 596h3v1h-3zM579 596h3v1h-3zM585 596h3v1h-3zM591 596h3v1h-3zM615 596h3v1h-3zM621 596h3v1h-3zM627 596h3v1h-3zM562 597h2v1h-2zM567 597h3v1h-3zM633 597h3v1h-3zM550 598h2v1h-2zM555 598h3v1h-3zM640 598h2v1h-2zM543 599h3v1h-3zM646 599h2v1h-2zM537 600h2v1h-2zM651 600h3v1h-3zM531 601h3v1h-3zM658 601h2v1h-2zM663 601h3v1h-3zM525 602h3v1h-3zM669 602h3v1h-3zM519 603h3v1h-3zM675 603h3v1h-3zM513 604h3v1h-3zM681 604h2v1h-2zM507 605h3v1h-3zM687 605h3v1h-3zM501 606h3v1h-3zM693 606h3v1h-3zM495 607h3v1h-3zM699 607h3v1h-3zM489 608h2v1h-2zM705 608h3v1h-3zM483 609h3v1h-3zM477 610h3v1h-3zM712 610h2v1h-2zM466 611h2v1h-2zM471 611h3v1h-3zM717 611h3v1h-3zM459 612h3v1h-3zM723 612h3v1h-3zM453 613h3v1h-3zM729 613h2v1h-2zM442 614h2v1h-2zM447 614h3v1h-3zM435 615h3v1h-3zM736 615h2v1h-2zM429 616h3v1h-3zM742 616h2v1h-2zM424 617h2v1h-2zM747 617h3v1h-3zM753 618h3v1h-3zM417 619h3v1h-3zM759 619h3v1h-3zM411 620h3v1h-3zM765 620h3v1h-3zM406 621h2v1h-2zM771 621h3v1h-3zM400 622h2v1h-2zM778 622h2v1h-2zM783 623h3v1h-3zM393 624h2v1h-2zM387 625h3v1h-3zM790 625h2v1h-2zM381 626h3v1h-3zM370 627h2v1h-2zM375 627h3v1h-3zM796 627h2v1h-2zM363 628h3v1h-3zM358 629h2v1h-2zM802 629h2v1h-2zM352 630h2v1h-2zM807 630h2v1h-2zM345 632h2v1h-2zM813 632h2v1h-2zM339 633h3v1h-3zM333 634h3v1h-3zM819 634h3v1h-3zM166 635h2v1h-2zM171 635h3v1h-3zM177 635h3v1h-3zM322 635h2v1h-2zM327 635h3v1h-3zM141 636h3v1h-3zM147 636h3v1h-3zM153 636h3v1h-3zM159 636h3v1h-3zM183 636h3v1h-3zM189 636h3v1h-3zM195 636h3v1h-3zM310 636h2v1h-2zM315 636h3v1h-3zM825 636h3v1h-3zM130 637h2v1h-2zM135 637h3v1h-3zM201 637h3v1h-3zM207 637h3v1h-3zM298 637h2v1h-2zM303 637h3v1h-3zM124 638h2v1h-2zM214 638h2v1h-2zM219 638h3v1h-3zM225 638h3v1h-3zM231 638h3v1h-3zM237 638h3v1h-3zM243 638h3v1h-3zM291 638h3v1h-3zM831 638h3v1h-3zM249 639h3v1h-3zM255 639h3v1h-3zM279 639h3v1h-3zM285 639h3v1h-3zM117 640h3v1h-3zM262 640h2v1h-2zM267 640h3v1h-3zM273 640h3v1h-3zM838 640h2v1h-2zM112 641h2v1h-2zM844 642h2v1h-2zM105 643h2v1h-2zM99 644h3v1h-3zM850 644h2v1h-2zM93 645h3v1h-3zM855 646h3v1h-3zM87 648h2v1h-2zM861 648h2v1h-2zM81 651h2v1h-2zM867 651h2v1h-2zM75 654h2v1h-2zM873 654h2v1h-2zM879 657h2v1h-2zM64 660h2v1h-2zM886 660h2v1h-2zM892 663h2v1h-2zM57 664h2v1h-2zM897 665h2v1h-2zM52 667h2v1h-2zM903 668h2v1h-2zM46 670h2v1h-2zM909 671h2v1h-2zM40 674h2v1h-2zM915 674h3v1h-3zM922 677h2v1h-2zM33 679h2v1h-2zM927 679h3v1h-3zM1384 680h2v1h-2zM934 681h2v1h-2zM1377 682h3v1h-3zM27 683h2v1h-2zM940 683h2v1h-2zM1372 683h2v1h-2zM946 685h2v1h-2zM1365 685h3v1h-3zM22 686h2v1h-2zM1360 686h2v1h-2zM951 687h3v1h-3zM1353 688h3v1h-3zM957 689h2v1h-2zM1348 689h2v1h-2zM16 690h2v1h-2zM1341 691h3v1h-3zM963 692h3v1h-3zM1335 693h3v1h-3zM10 694h2v1h-2zM970 695h2v1h-2zM1330 695h2v1h-2zM975 697h2v1h-2zM1324 697h2v1h-2zM982 700h2v1h-2zM1317 700h2v1h-2zM1311 702h3v1h-3zM-2 703h2v1h-2zM988 703h2v1h-2zM1306 704h2v1h-2zM993 705h2v1h-2zM1300 706h2v1h-2zM1000 708h2v1h-2zM1293 709h2v1h-2zM1005 710h2v1h-2zM1288 711h2v1h-2zM1012 713h2v1h-2zM1281 714h2v1h-2zM1018 715h2v1h-2zM1276 716h2v1h-2zM1023 717h3v1h-3zM1029 719h2v1h-2zM1269 719h2v1h-2zM1263 721h3v1h-3zM1036 722h2v1h-2zM1258 723h2v1h-2zM1041 724h2v1h-2zM1251 726h3v1h-3zM1047 727h2v1h-2zM1245 729h2v1h-2zM1053 730h2v1h-2zM1239 731h3v1h-3zM1059 732h3v1h-3zM1234 733h2v1h-2zM1065 734h3v1h-3zM1228 735h2v1h-2zM1071 736h3v1h-3zM1221 737h3v1h-3zM1077 738h2v1h-2zM1216 738h2v1h-2zM1209 740h3v1h-3zM1084 741h2v1h-2zM1204 741h2v1h-2zM1089 742h3v1h-3zM1197 743h3v1h-3zM1096 744h2v1h-2zM1192 744h2v1h-2zM1101 745h3v1h-3zM1107 746h3v1h-3zM1185 746h3v1h-3zM1113 747h2v1h-2zM1179 747h3v1h-3zM1119 748h3v1h-3zM1173 748h3v1h-3zM1125 749h3v1h-3zM1161 749h3v1h-3zM1167 749h3v1h-3zM1131 750h3v1h-3zM1137 750h3v1h-3zM1143 750h3v1h-3zM1149 750h3v1h-3zM1155 750h3v1h-3zM597 596h1v1h-1zM639 597h1v1h-1zM561 598h1v1h-1zM645 598h1v1h-1zM539 599h1v1h-1zM549 599h1v1h-1zM657 600h1v1h-1zM683 605h1v1h-1zM491 607h1v1h-1zM711 609h1v1h-1zM465 612h1v1h-1zM731 614h1v1h-1zM735 614h1v1h-1zM441 615h1v1h-1zM741 615h1v1h-1zM423 618h1v1h-1zM777 621h1v1h-1zM405 622h1v1h-1zM395 623h1v1h-1zM399 623h1v1h-1zM789 624h1v1h-1zM795 626h1v1h-1zM369 628h1v1h-1zM801 628h1v1h-1zM357 630h1v1h-1zM347 631h1v1h-1zM351 631h1v1h-1zM809 631h1v1h-1zM815 633h1v1h-1zM165 636h1v1h-1zM321 636h1v1h-1zM213 637h1v1h-1zM309 637h1v1h-1zM129 638h1v1h-1zM297 638h1v1h-1zM123 639h1v1h-1zM261 639h1v1h-1zM837 639h1v1h-1zM843 641h1v1h-1zM107 642h1v1h-1zM111 642h1v1h-1zM849 643h1v1h-1zM89 647h1v1h-1zM863 649h1v1h-1zM83 650h1v1h-1zM869 652h1v1h-1zM77 653h1v1h-1zM875 655h1v1h-1zM71 656h1v1h-1zM70 657h1v1h-1zM69 658h1v1h-1zM881 658h1v1h-1zM885 659h1v1h-1zM63 661h1v1h-1zM891 662h1v1h-1zM59 663h1v1h-1zM899 666h1v1h-1zM51 668h1v1h-1zM905 669h1v1h-1zM45 671h1v1h-1zM911 672h1v1h-1zM39 675h1v1h-1zM921 676h1v1h-1zM35 678h1v1h-1zM933 680h1v1h-1zM1383 681h1v1h-1zM29 682h1v1h-1zM939 682h1v1h-1zM945 684h1v1h-1zM1371 684h1v1h-1zM21 687h1v1h-1zM1359 687h1v1h-1zM959 690h1v1h-1zM1347 690h1v1h-1zM15 691h1v1h-1zM969 694h1v1h-1zM9 695h1v1h-1zM1329 696h1v1h-1zM5 698h1v1h-1zM977 698h1v1h-1zM1323 698h1v1h-1zM4 699h1v1h-1zM981 699h1v1h-1zM1319 699h1v1h-1zM3 700h1v1h-1zM987 702h1v1h-1zM-3 704h1v1h-1zM1305 705h1v1h-1zM995 706h1v1h-1zM999 707h1v1h-1zM1299 707h1v1h-1zM1295 708h1v1h-1zM1007 711h1v1h-1zM1011 712h1v1h-1zM1287 712h1v1h-1zM1283 713h1v1h-1zM1017 714h1v1h-1zM1275 717h1v1h-1zM1271 718h1v1h-1zM1031 720h1v1h-1zM1035 721h1v1h-1zM1257 724h1v1h-1zM1043 725h1v1h-1zM1049 728h1v1h-1zM1247 728h1v1h-1zM1055 731h1v1h-1zM1233 734h1v1h-1zM1227 736h1v1h-1zM1079 739h1v1h-1zM1215 739h1v1h-1zM1083 740h1v1h-1zM1203 742h1v1h-1zM1095 743h1v1h-1zM1191 745h1v1h-1zM1115 748h1v1h-1z" fill="#ff0000" shape-rendering="crispEdges"/>
<line x1="0" y1="800.5" x2="1624" y2="800.5" stroke="#c0c0c0" stroke-width="1" stroke-dasharray="3 3" shape-rendering="crispEdges"/>
<line x1="0" y1="847.5" x2="1624" y2="847.5" stroke="#c0c0c0" stroke-width="1" stroke-dasharray="3 3" shape-rendering="crispEdges"/>
<line x1="0" y1="903.5" x2="1624" y2="903.5" stroke="#c0c0c0" stroke-width="1" stroke-dasharray="3 3" shape-rendering="crispEdges"/>
<path d="M476 810h3v1h-3zM472 811h4v1h-4zM479 811h3v1h-3zM468 812h4v1h-4zM482 812h4v1h-4zM464 813h4v1h-4zM486 813h3v1h-3zM506 813h8v1h-8zM458 814h6v1h-6zM489 814h3v1h-3zM498 814h8v1h-8zM514 814h8v1h-8zM602 814h4v1h-4zM301 815h3v1h-3zM450 815h8v1h-8zM492 815h6v1h-6zM522 815h4v1h-4zM594 815h8v1h-8zM299 816h2v1h-2zM304 816h4v1h-4zM444 816h6v1h-6zM526 816h2v1h-2zM586 816h8v1h-8zM308 817h4v1h-4zM440 817h4v1h-4zM528 817h2v1h-2zM578 817h8v1h-8zM296 818h2v1h-2zM312 818h4v1h-4zM436 818h4v1h-4zM572 818h6v1h-6zM294 819h2v1h-2zM316 819h3v1h-3zM432 819h4v1h-4zM531 819h2v1h-2zM569 819h3v1h-3zM319 820h2v1h-2zM412 820h20v1h-20zM566 820h3v1h-3zM291 821h2v1h-2zM321 821h2v1h-2zM410 821h2v1h-2zM534 821h2v1h-2zM562 821h4v1h-4zM28 822h3v1h-3zM323 822h2v1h-2zM407 822h3v1h-3zM536 822h2v1h-2zM559 822h3v1h-3zM25 823h3v1h-3zM31 823h2v1h-2zM288 823h2v1h-2zM325 823h2v1h-2zM404 823h3v1h-3zM554 823h5v1h-5zM22 824h3v1h-3zM33 824h2v1h-2zM286 824h2v1h-2zM327 824h2v1h-2zM347 824h5v1h-5zM402 824h2v1h-2zM539 824h2v1h-2zM546 824h8v1h-8zM18 825h4v1h-4zM35 825h2v1h-2zM329 825h2v1h-2zM342 825h5v1h-5zM352 825h4v1h-4zM399 825h3v1h-3zM541 825h5v1h-5zM15 826h3v1h-3zM37 826h2v1h-2zM283 826h2v1h-2zM331 826h2v1h-2zM336 826h6v1h-6zM356 826h4v1h-4zM397 826h2v1h-2zM11 827h4v1h-4zM39 827h2v1h-2zM333 827h3v1h-3zM360 827h4v1h-4zM395 827h2v1h-2zM7 828h4v1h-4zM41 828h2v1h-2zM280 828h2v1h-2zM364 828h3v1h-3zM393 828h2v1h-2zM3 829h4v1h-4zM43 829h2v1h-2zM367 829h3v1h-3zM391 829h2v1h-2zM0 830h3v1h-3zM370 830h2v1h-2zM389 830h2v1h-2zM46 831h2v1h-2zM276 831h2v1h-2zM372 831h3v1h-3zM387 831h2v1h-2zM48 832h2v1h-2zM173 832h2v1h-2zM375 832h3v1h-3zM385 832h2v1h-2zM636 832h3v1h-3zM50 833h2v1h-2zM171 833h2v1h-2zM175 833h3v1h-3zM273 833h2v1h-2zM378 833h2v1h-2zM383 833h2v1h-2zM634 833h2v1h-2zM639 833h2v1h-2zM683 833h11v1h-11zM733 833h2v1h-2zM52 834h2v1h-2zM169 834h2v1h-2zM178 834h2v1h-2zM380 834h3v1h-3zM632 834h2v1h-2zM641 834h2v1h-2zM678 834h5v1h-5zM694 834h9v1h-9zM731 834h2v1h-2zM735 834h2v1h-2zM167 835h2v1h-2zM180 835h3v1h-3zM270 835h2v1h-2zM630 835h2v1h-2zM643 835h3v1h-3zM672 835h6v1h-6zM703 835h2v1h-2zM729 835h2v1h-2zM737 835h2v1h-2zM55 836h2v1h-2zM108 836h3v1h-3zM165 836h2v1h-2zM183 836h3v1h-3zM262 836h8v1h-8zM627 836h3v1h-3zM646 836h2v1h-2zM667 836h5v1h-5zM705 836h2v1h-2zM727 836h2v1h-2zM739 836h3v1h-3zM57 837h2v1h-2zM106 837h2v1h-2zM111 837h3v1h-3zM163 837h2v1h-2zM186 837h2v1h-2zM252 837h10v1h-10zM625 837h2v1h-2zM648 837h2v1h-2zM662 837h5v1h-5zM707 837h3v1h-3zM725 837h2v1h-2zM742 837h2v1h-2zM763 837h4v1h-4zM59 838h2v1h-2zM104 838h2v1h-2zM114 838h4v1h-4zM161 838h2v1h-2zM188 838h4v1h-4zM250 838h2v1h-2zM623 838h2v1h-2zM650 838h2v1h-2zM656 838h6v1h-6zM710 838h2v1h-2zM723 838h2v1h-2zM744 838h2v1h-2zM758 838h5v1h-5zM767 838h3v1h-3zM61 839h3v1h-3zM102 839h2v1h-2zM118 839h3v1h-3zM138 839h12v1h-12zM159 839h2v1h-2zM192 839h6v1h-6zM218 839h5v1h-5zM248 839h2v1h-2zM621 839h2v1h-2zM652 839h4v1h-4zM712 839h2v1h-2zM721 839h2v1h-2zM746 839h2v1h-2zM752 839h6v1h-6zM770 839h4v1h-4zM64 840h6v1h-6zM99 840h3v1h-3zM121 840h3v1h-3zM130 840h8v1h-8zM150 840h9v1h-9zM198 840h5v1h-5zM210 840h8v1h-8zM223 840h3v1h-3zM246 840h2v1h-2zM714 840h2v1h-2zM719 840h2v1h-2zM748 840h4v1h-4zM774 840h3v1h-3zM70 841h5v1h-5zM97 841h2v1h-2zM124 841h6v1h-6zM203 841h7v1h-7zM226 841h4v1h-4zM243 841h3v1h-3zM716 841h3v1h-3zM777 841h3v1h-3zM1355 841h2v1h-2zM1358 841h2v1h-2zM75 842h11v1h-11zM95 842h2v1h-2zM230 842h3v1h-3zM241 842h2v1h-2zM780 842h2v1h-2zM1259 842h3v1h-3zM1353 842h2v1h-2zM1360 842h2v1h-2zM86 843h9v1h-9zM233 843h3v1h-3zM239 843h2v1h-2zM1254 843h5v1h-5zM1262 843h2v1h-2zM1351 843h2v1h-2zM236 844h3v1h-3zM1248 844h6v1h-6zM1264 844h2v1h-2zM1349 844h2v1h-2zM1363 844h2v1h-2zM1242 845h6v1h-6zM1324 845h4v1h-4zM1347 845h2v1h-2zM1234 846h8v1h-8zM1267 846h2v1h-2zM1320 846h4v1h-4zM1328 846h6v1h-6zM1345 846h2v1h-2zM1366 846h2v1h-2zM1388 846h2v1h-2zM1197 847h9v1h-9zM1222 847h12v1h-12zM1316 847h4v1h-4zM1334 847h5v1h-5zM1343 847h2v1h-2zM1368 847h2v1h-2zM1384 847h4v1h-4zM1195 848h2v1h-2zM1206 848h16v1h-16zM1270 848h2v1h-2zM1312 848h4v1h-4zM1339 848h4v1h-4zM1380 848h4v1h-4zM1193 849h2v1h-2zM1272 849h2v1h-2zM1309 849h3v1h-3zM1371 849h2v1h-2zM1376 849h4v1h-4zM1191 850h2v1h-2zM1307 850h2v1h-2zM1373 850h3v1h-3zM1275 851h2v1h-2zM1305 851h2v1h-2zM1188 852h2v1h-2zM1277 852h2v1h-2zM1303 852h2v1h-2zM1186 853h2v1h-2zM1279 853h3v1h-3zM1301 853h2v1h-2zM1184 854h2v1h-2zM1282 854h4v1h-4zM1299 854h2v1h-2zM924 855h10v1h-10zM1182 855h2v1h-2zM1286 855h3v1h-3zM1297 855h2v1h-2zM921 856h3v1h-3zM934 856h8v1h-8zM1289 856h3v1h-3zM1295 856h2v1h-2zM918 857h3v1h-3zM1292 857h3v1h-3zM914 858h4v1h-4zM1178 858h2v1h-2zM911 859h3v1h-3zM909 860h2v1h-2zM828 861h6v1h-6zM907 861h2v1h-2zM1174 861h2v1h-2zM797 862h3v1h-3zM825 862h3v1h-3zM834 862h8v1h-8zM905 862h2v1h-2zM800 863h4v1h-4zM822 863h3v1h-3zM842 863h4v1h-4zM903 863h2v1h-2zM804 864h4v1h-4zM818 864h4v1h-4zM901 864h2v1h-2zM1170 864h2v1h-2zM808 865h4v1h-4zM815 865h3v1h-3zM847 865h2v1h-2zM899 865h2v1h-2zM812 866h3v1h-3zM897 866h2v1h-2zM1069 866h2v1h-2zM895 867h2v1h-2zM1071 867h3v1h-3zM1166 867h2v1h-2zM893 868h2v1h-2zM1074 868h4v1h-4zM1164 868h2v1h-2zM852 869h2v1h-2zM891 869h2v1h-2zM1078 869h3v1h-3zM1160 869h4v1h-4zM889 870h2v1h-2zM1081 870h3v1h-3zM1156 870h4v1h-4zM887 871h2v1h-2zM1084 871h6v1h-6zM1152 871h4v1h-4zM885 872h2v1h-2zM1090 872h8v1h-8zM1146 872h6v1h-6zM883 873h2v1h-2zM1098 873h6v1h-6zM1138 873h8v1h-8zM858 874h2v1h-2zM881 874h2v1h-2zM1060 874h2v1h-2zM1104 874h4v1h-4zM1131 874h7v1h-7zM879 875h2v1h-2zM1108 875h4v1h-4zM1126 875h5v1h-5zM861 876h18v1h-18zM1112 876h4v1h-4zM1120 876h6v1h-6zM1116 877h4v1h-4zM987 881h11v1h-11zM1051 881h3v1h-3zM957 882h5v1h-5zM982 882h5v1h-5zM998 882h10v1h-10zM1046 882h5v1h-5zM962 883h8v1h-8zM976 883h6v1h-6zM1008 883h4v1h-4zM1040 883h6v1h-6zM970 884h6v1h-6zM1012 884h4v1h-4zM1034 884h6v1h-6zM1016 885h4v1h-4zM1026 885h8v1h-8zM1020 886h6v1h-6zM606 815h1v2h-1zM298 817h1v1h-1zM607 817h1v1h-1zM530 818h1v1h-1zM608 818h1v2h-1zM293 820h1v1h-1zM533 820h1v1h-1zM609 820h1v2h-1zM290 822h1v1h-1zM610 822h1v1h-1zM538 823h1v1h-1zM611 823h1v2h-1zM285 825h1v1h-1zM612 825h1v1h-1zM613 826h1v2h-1zM282 827h1v1h-1zM614 828h1v1h-1zM279 829h1v1h-1zM615 829h1v2h-1zM45 830h1v1h-1zM278 830h1v1h-1zM616 831h1v1h-1zM275 832h1v1h-1zM617 832h1v2h-1zM272 834h1v1h-1zM618 834h1v2h-1zM54 835h1v1h-1zM619 836h1v1h-1zM620 837h1v2h-1zM1357 840h1v1h-1zM782 843h1v1h-1zM1362 843h1v1h-1zM783 844h1v2h-1zM1266 845h1v1h-1zM1365 845h1v1h-1zM784 846h1v1h-1zM785 847h1v1h-1zM1269 847h1v1h-1zM786 848h1v1h-1zM1370 848h1v1h-1zM787 849h1v2h-1zM1274 850h1v1h-1zM788 851h1v1h-1zM1190 851h1v1h-1zM789 852h1v1h-1zM790 853h1v1h-1zM791 854h1v2h-1zM792 856h1v1h-1zM1181 856h1v1h-1zM793 857h1v1h-1zM942 857h1v2h-1zM1180 857h1v1h-1zM794 858h1v1h-1zM795 859h1v2h-1zM943 859h1v2h-1zM1177 859h1v1h-1zM1176 860h1v1h-1zM796 861h1v1h-1zM944 861h1v1h-1zM945 862h1v2h-1zM1173 862h1v1h-1zM1172 863h1v1h-1zM846 864h1v1h-1zM946 864h1v1h-1zM947 865h1v2h-1zM1169 865h1v1h-1zM849 866h1v1h-1zM1168 866h1v1h-1zM850 867h1v1h-1zM948 867h1v2h-1zM1068 867h1v1h-1zM851 868h1v1h-1zM1067 868h1v1h-1zM949 869h1v1h-1zM1066 869h1v1h-1zM854 870h1v1h-1zM950 870h1v2h-1zM1065 870h1v1h-1zM855 871h1v1h-1zM1064 871h1v1h-1zM856 872h1v1h-1zM951 872h1v2h-1zM1063 872h1v1h-1zM857 873h1v1h-1zM1062 873h1v1h-1zM952 874h1v1h-1zM860 875h1v1h-1zM953 875h1v2h-1zM1059 875h1v1h-1zM1058 876h1v1h-1zM954 877h1v1h-1zM1057 877h1v1h-1zM955 878h1v2h-1zM1056 878h1v1h-1zM1055 879h1v1h-1zM956 880h1v2h-1zM1054 880h1v1h-1z" fill="#1e90ff" shape-rendering="crispEdges"/>
<g font-family="Liberation Sans, sans-serif" font-size="9.2" stroke="#000" stroke-width="0.25" paint-order="stroke">
<text x="1630" y="52.7" fill="#000" >29547.0</text>
<text x="1630" y="85.7" fill="#000" >29473.0</text>
<text x="1630" y="118.7" fill="#000" >29401.0</text>
<text x="1630" y="151.7" fill="#000" >29329.0</text>
<text x="1630" y="184.7" fill="#000" >29255.0</text>
<text x="1630" y="217.7" fill="#000" >29183.0</text>
<text x="1630" y="250.7" fill="#000" >29111.0</text>
<text x="1630" y="283.7" fill="#000" >29037.0</text>
<text x="1630" y="316.7" fill="#000" >28965.0</text>
<text x="1630" y="349.7" fill="#000" >28891.0</text>
<text x="1630" y="382.7" fill="#000" >28819.0</text>
<text x="1630" y="415.7" fill="#000" >28747.0</text>
<text x="1630" y="448.7" fill="#000" >28675.0</text>
<text x="1630" y="481.7" fill="#000" >28601.0</text>
<text x="1630" y="514.7" fill="#000" >28527.0</text>
<text x="1630" y="547.7" fill="#000" >28455.0</text>
<text x="1630" y="580.7" fill="#000" >28383.0</text>
<text x="1628.5" y="593" fill="#000" >168.08</text>
<text x="1628.5" y="668" fill="#000" >0.00</text>
<text x="1628.5" y="763" fill="#000" >-210.45</text>
<text x="1628.5" y="778" fill="#000" >100</text>
<text x="1628.5" y="804" fill="#000" >80</text>
<text x="1628.5" y="851" fill="#000" >50</text>
<text x="1628.5" y="907" fill="#000" >15</text>
<text x="1628.5" y="924" fill="#000" >0</text>
<text x="-5.5" y="940" fill="#000" >12 Mar 2019</text>
<text x="60.5" y="940" fill="#000" >13 Mar 01:15</text>
<text x="124.5" y="940" fill="#000" >13 Mar 06:00</text>
<text x="188.5" y="940" fill="#000" >14 Mar 02:15</text>
<text x="252.5" y="940" fill="#000" >14 Mar 07:00</text>
<text x="316.5" y="940" fill="#000" >15 Mar 03:15</text>
<text x="380.5" y="940" fill="#000" >15 Mar 08:00</text>
<text x="444.5" y="940" fill="#000" >18 Mar 05:00</text>
<text x="508.5" y="940" fill="#000" >19 Mar 01:15</text>
<text x="572.5" y="940" fill="#000" >19 Mar 06:00</text>
<text x="636.5" y="940" fill="#000" >20 Mar 02:15</text>
<text x="700.5" y="940" fill="#000" >20 Mar 07:00</text>
<text x="764.5" y="940" fill="#000" >21 Mar 03:15</text>
<text x="828.5" y="940" fill="#000" >21 Mar 08:00</text>
<text x="892.5" y="940" fill="#000" >22 Mar 05:00</text>
<text x="956.5" y="940" fill="#000" >25 Mar 01:15</text>
<text x="1020.5" y="940" fill="#000" >25 Mar 06:00</text>
<text x="1084.5" y="940" fill="#000" >26 Mar 02:15</text>
<text x="1148.5" y="940" fill="#000" >26 Mar 07:00</text>
<text x="1212.5" y="940" fill="#000" >27 Mar 03:15</text>
<text x="1276.5" y="940" fill="#000" >27 Mar 08:00</text>
<text x="1340.5" y="940" fill="#000" >28 Mar 05:00</text>
<text x="12" y="39" fill="#000" letter-spacing="0.06">HK50-,H1&#160;&#160;28720.0 28818.0 28711.5 28760.5</text>
<polygon points="1,37 9,37 5,33" fill="#000"/>
<text x="1.5" y="595" fill="#000" letter-spacing="0.1">MACD(12,26,9) -11.98 -32.41</text>
<text x="1.5" y="780" fill="#000" >RSI(14) 50.6770</text>
<rect x="1626" y="332" width="41" height="11" fill="#ff0000" shape-rendering="crispEdges"/>
<text x="1630" y="341" fill="#fff" stroke="none">28909.7</text>
<rect x="1626" y="363" width="41" height="11" fill="#ff0000" shape-rendering="crispEdges"/>
<text x="1630" y="372" fill="#fff" stroke="none">28841.4</text>
<rect x="1626" y="401" width="41" height="11" fill="#000" shape-rendering="crispEdges"/>
<text x="1630" y="410" fill="#fff" stroke="none">28760.5</text>
<rect x="1626" y="441" width="41" height="11" fill="#32cd32" shape-rendering="crispEdges"/>
<text x="1630" y="450" fill="#fff" stroke="none">28669.7</text>
<rect x="1626" y="478" width="41" height="11" fill="#0000ff" shape-rendering="crispEdges"/>
<text x="1630" y="487" fill="#fff" stroke="none">28588.3</text>
<rect x="1626" y="513" width="41" height="11" fill="#0000ff" shape-rendering="crispEdges"/>
<text x="1630" y="522" fill="#fff" stroke="none">28511.3</text>
</g>
<text x="1016" y="470.5" font-size="31" letter-spacing="2.3" font-family="Noto Serif CJK SC, serif" font-weight="600" fill="#052805">多空转折点</text><text x="1180" y="471" font-size="32.2" font-family="Liberation Sans, sans-serif" font-weight="bold" fill="#052805">28669</text>
<text x="1015" y="469.5" font-size="31" letter-spacing="2.3" font-family="Noto Serif CJK SC, serif" font-weight="600" fill="#00ff00">多空转折点</text><text x="1179" y="470" font-size="32.2" font-family="Liberation Sans, sans-serif" font-weight="bold" fill="#00ff00">28669</text></svg>
<div id="tb"></div>
<svg id="tbs" width="1671" height="25" viewBox="0 0 1671 25" style="position:absolute;left:0;top:0">
<defs>
<g id="axes"><rect x="2" y="1" width="1" height="14" fill="#505050"/><rect x="0" y="12" width="14" height="1" fill="#505050"/><path d="M1 3.500L2.500 0.800L4 3.500zM11.500 11L14.300 12.500L11.500 14z" fill="#505050"/></g>
<path id="dd" d="M0 0h5.400l-2.700 3.200z" fill="#000"/>
<g id="grip" fill="#a0a0a0"><rect x="0" y="1" width="4" height="1"/><rect x="0" y="3" width="4" height="1"/><rect x="0" y="5" width="4" height="1"/><rect x="0" y="7" width="4" height="1"/><rect x="0" y="9" width="4" height="1"/><rect x="0" y="11" width="4" height="1"/><rect x="0" y="13" width="4" height="1"/><rect x="0" y="15" width="4" height="1"/><rect x="0" y="17" width="4" height="1"/><rect x="0" y="19" width="4" height="1"/></g>
<g id="sep"><rect x="0" y="0" width="1" height="21" fill="#9a9a9a"/><rect x="1" y="0" width="1" height="21" fill="#fff"/></g>
<g id="mag"><path d="M10.500 10.300L15.300 14.800" stroke="#b07c12" stroke-width="3.600" stroke-linecap="round"/><path d="M10.800 10.600L15.100 14.600" stroke="#f2d648" stroke-width="1.900" stroke-linecap="round"/><circle cx="7" cy="6.500" r="5.400" fill="#d9f0fb" stroke="#2f7ad2" stroke-width="1.300"/></g>
</defs>
<!-- pressed backgrounds -->
<g fill="#f9f9f9"><rect x="260" y="1" width="24" height="21"/><rect x="412" y="1" width="24" height="21"/><rect x="440" y="1" width="24" height="21"/><rect x="600" y="1" width="24" height="21"/><rect x="1018" y="1" width="25" height="21"/></g>
<!-- separators & grips -->
<use href="#sep" x="221"/><use href="#grip" x="225"/>
<use href="#sep" x="259"/><use href="#sep" x="316"/><use href="#sep" x="406"/><use href="#sep" x="468"/>
<use href="#sep" x="589"/><use href="#grip" x="593"/><use href="#sep" x="656"/>
<use href="#sep" x="895"/><use href="#grip" x="899"/>
<rect x="599" y="1" width="1" height="20" fill="#a0a0a0"/><rect x="439" y="1" width="1" height="20" fill="#a0a0a0"/><rect x="411" y="1" width="1" height="20" fill="#a0a0a0"/><rect x="1017" y="1" width="1" height="20" fill="#a0a0a0"/>
<rect x="1156" y="0" width="1" height="23" fill="#8c8c8c"/><rect x="1157" y="0" width="1" height="23" fill="#fff"/>
<!-- 1 new order -->
<g><path d="M-3 3.500H3.700L6.700 6.500V15H-3z" fill="#fff" stroke="#8a8a8a"/><path d="M3.700 3.500V6.500H6.700" fill="#e8e8e8" stroke="#8a8a8a"/><path d="M-1 11.500h2.700" stroke="#9a9a9a"/>
<path d="M3.500 9.500h3.500v4h4v3.500h-4v4h-3.500v-4h-4.500v-3.500h4.500z" fill="#25e03c" stroke="#0f8f1f" stroke-width="1"/></g>
<text x="13.5" y="14" font-size="12" font-family="Liberation Sans, Noto Sans CJK SC, sans-serif" fill="#000">新订单</text>
<!-- 2 book -->
<defs><linearGradient id="gb" x1="0" y1="0" x2="1" y2="1"><stop offset="0" stop-color="#fbe36a"/><stop offset=".5" stop-color="#e8b020"/><stop offset="1" stop-color="#f3cf58"/></linearGradient></defs>
<g><path d="M62 12.800L67.500 4.300L77.400 11.500L70.200 18.400z" fill="url(#gb)" stroke="#b57d14" stroke-width=".9"/><path d="M62 12.800L70.200 18.400L77.400 11.500L77.600 13L70.300 19.800L61.800 14z" fill="#a86c10"/><path d="M67.300 5.500Q66 7 66.800 8.500" stroke="#fff2b0" stroke-width="1" fill="none"/></g>
<!-- 3 server cloud -->
<defs><linearGradient id="gc" x1="0" y1="0" x2="0" y2="1"><stop offset="0" stop-color="#ffffff"/><stop offset="1" stop-color="#c4d6ee"/></linearGradient></defs>
<g><path d="M92 4.500L95.500 3H103V13H92z" fill="#2f9bff" stroke="#1b78e0" stroke-width=".8"/><path d="M92 4.500L95.500 3V13H92z" fill="#8fd0ff"/><rect x="96.500" y="6" width="5.500" height="1.600" fill="#d8eeff"/><rect x="96.500" y="9" width="5.500" height="1.300" fill="#a8d6ff"/>
<path d="M93 18.800h10a2.900 2.900 0 0 0 .6-5.700a3.600 3.600 0 0 0-6.600-1.300a3.300 3.300 0 0 0-3.700 2.200a2.500 2.500 0 0 0-.3 4.800z" fill="url(#gc)" stroke="#5f82c2" stroke-width=".9"/></g>
<!-- 4 signal -->
<defs><linearGradient id="gs" x1="0" y1="0" x2="1" y2="1"><stop offset="0" stop-color="#dfeedd" stop-opacity=".3"/><stop offset="1" stop-color="#58b45c"/></linearGradient></defs>
<g fill="none"><path d="M126 3.200A7.800 7.800 0 0 1 126.500 18.800V11z" fill="url(#gs)"/><circle cx="126" cy="11" r="7.600" stroke="#9fb9e4" stroke-width="1.100"/><circle cx="126" cy="11" r="5.300" stroke="#5f8fd8" stroke-width="1.100" stroke-dasharray="12 4.600"/><circle cx="126" cy="11" r="3.100" stroke="#4f7fd0" stroke-width="1" stroke-dasharray="7 2.700"/><circle cx="126" cy="10.800" r="1.500" fill="#2356c8"/><path d="M126.500 11V18.800" stroke="#1fa32a" stroke-width="1.300"/></g>
<!-- 5 autotrading -->
<g><path d="M145.500 10.500L160.700 9.800L156 17L153.400 18.900L151.500 17.500z" fill="#f7d24a" stroke="#c99a1c" stroke-width=".7"/><path d="M147 11L152 12L150.500 16z" fill="#fff3b0" opacity=".8"/><ellipse cx="153.100" cy="8" rx="7.900" ry="2.900" fill="#4f9ad8" stroke="#2c72b8" stroke-width=".7"/><path d="M148.500 7.300Q149 3 153.200 3Q157.500 3 157.800 7.300Q153.200 9 148.500 7.300z" fill="#78b8e8" stroke="#2c72b8" stroke-width=".7"/><circle cx="157.700" cy="14.800" r="4" fill="#e3261c" stroke="#b0150d" stroke-width=".8"/><rect x="156.300" y="13.400" width="2.800" height="2.800" fill="#fff"/></g>
<text x="166.5" y="14" font-size="12" font-family="Liberation Sans, Noto Sans CJK SC, sans-serif" fill="#000">自动交易</text>
<!-- 6 bar chart -->
<use href="#axes" x="237" y="4"/><g fill="#128a12"><rect x="245" y="6" width="1.300" height="9"/><rect x="246" y="7" width="2.300" height="1.300"/><rect x="243" y="13" width="2.300" height="1.300"/></g>
<!-- 7 candle -->
<use href="#axes" x="265" y="4"/><rect x="273" y="3" width="1.200" height="12" fill="#0c8a10"/><rect x="271.500" y="5.500" width="4" height="7" fill="#3fe055" stroke="#0c8a10" stroke-width="1"/>
<!-- 8 line -->
<use href="#axes" x="293" y="4"/><path d="M294 13.500Q298 7.500 300 8.300Q302 9 305.700 12.100" stroke="#2a9a2a" stroke-width="1.200" fill="none"/>
<!-- 9/10 zoom -->
<use href="#mag" x="324" y="2.400"/><path d="M327.900 8.900h6.200M331 5.800v6.200" stroke="#3a88b4" stroke-width="1.900"/>
<use href="#mag" x="352" y="2.400"/><path d="M355.900 8.900h6.200" stroke="#3a88b4" stroke-width="1.900"/>
<!-- 11 grid -->
<g><rect x="381" y="3" width="8" height="8" fill="#3f9e1c"/><rect x="382" y="4" width="1" height="1" fill="#fff"/><rect x="382" y="6.5" width="6" height="3.800" fill="#fff"/><rect x="383" y="7.5" width="4" height="1" fill="#a8dc90"/><rect x="383.5" y="9.5" width="3" height="1" fill="#3f9e1c"/><rect x="389" y="3" width="8" height="8" fill="#1f54d4"/><rect x="390" y="4" width="1" height="1" fill="#fff"/><rect x="390" y="6.5" width="6" height="3.800" fill="#fff"/><rect x="391" y="7.5" width="4" height="1" fill="#9ab8f0"/><rect x="391.5" y="9.5" width="3" height="1" fill="#1f54d4"/><rect x="381" y="11" width="8" height="8" fill="#1f54d4"/><rect x="382" y="12" width="1" height="1" fill="#fff"/><rect x="382" y="14.5" width="6" height="3.800" fill="#fff"/><rect x="383" y="15.5" width="4" height="1" fill="#9ab8f0"/><rect x="383.5" y="17.5" width="3" height="1" fill="#1f54d4"/><rect x="389" y="11" width="8" height="8" fill="#3f9e1c"/><rect x="390" y="12" width="1" height="1" fill="#fff"/><rect x="390" y="14.5" width="6" height="3.800" fill="#fff"/><rect x="391" y="15.5" width="4" height="1" fill="#a8dc90"/><rect x="391.5" y="17.5" width="3" height="1" fill="#3f9e1c"/></g>
<!-- 12 autoscroll -->
<use href="#axes" x="417" y="4"/><path d="M424.500 7.300L428.300 10.500L424.500 13.700z" fill="#a8e8a8" stroke="#18a018" stroke-width="1.100"/>
<!-- 13 shift -->
<use href="#axes" x="445" y="4"/><rect x="453" y="5" width="1.200" height="10" fill="#1f78c8"/><path d="M454.600 10.500L457.200 8V9.900H459.300V11.100H457.200V13z" fill="#d84810"/>
<!-- 14 indicators -->
<g><path d="M478.500 3.500H486L489.500 7V16.500H478.500z" fill="#fff" stroke="#8a8a8a"/><path d="M486 3.500V7H489.500" fill="#e6e6e6" stroke="#8a8a8a"/><path d="M484 8.5Q482 8 482 10V14M480.5 11H484" stroke="#555" fill="none" stroke-width="1"/>
<path d="M486.5 9.5h3.5v4h4v3.5h-4v4h-3.5v-4h-4v-3.5h4z" fill="#2fc12f" stroke="#0f8a1a" stroke-width="1"/></g>
<use href="#dd" x="500" y="9.800"/>
<!-- 15 clock -->
<defs><linearGradient id="gk" x1="0" y1="0" x2="1" y2="1"><stop offset="0" stop-color="#5fb0f4"/><stop offset=".55" stop-color="#1f66cc"/><stop offset="1" stop-color="#0f3f96"/></linearGradient></defs>
<g><circle cx="524" cy="10.800" r="7.700" fill="url(#gk)"/><circle cx="524" cy="10.800" r="5.300" fill="#f2f6fc"/><g fill="#8a94a4"><rect x="523.600" y="6" width=".8" height="1"/><rect x="523.600" y="14.600" width=".8" height="1"/><rect x="519.200" y="10.400" width="1" height=".8"/><rect x="527.800" y="10.400" width="1" height=".8"/></g><path d="M523.800 7.200V11.200H526.800" stroke="#333" stroke-width="1.200" fill="none"/></g>
<use href="#dd" x="538.800" y="9.800"/>
<!-- 16 template -->
<g><rect x="555.5" y="4.5" width="15" height="13" fill="#fff" stroke="#3a78cf"/><rect x="555.500" y="4.500" width="15" height="2.500" fill="#5a9ae6"/><path d="M557 11.5L560 10.5L562.5 11L565 9.5L569 9" stroke="#b0281c" stroke-width="1.2" fill="none"/><path d="M557 15.5L560 14L562 15L565 13L569 14.5" stroke="#22a23a" stroke-width="1.2" fill="none"/><path d="M556 12.5h14" stroke="#9bbbe6" stroke-width=".8"/></g>
<use href="#dd" x="577.900" y="9.800"/>
<!-- 17 cursor -->
<path d="M607 4V16.5L610 13.8L612.2 18.5L614 17.6L611.9 13H615.8z" fill="#3d3d3d"/>
<!-- 18 crosshair -->
<path d="M639.500 4V18.500M632 11.500H647" stroke="#5a5a5a" stroke-width="1" fill="none" shape-rendering="crispEdges"/><rect x="639" y="11" width="1" height="1" fill="#f0f0f0"/>
<!-- 19-21 lines -->
<path d="M673.500 5V18" stroke="#555" stroke-width="1" shape-rendering="crispEdges"/><path d="M696 11.500H708.500" stroke="#555" stroke-width="1" shape-rendering="crispEdges"/><path d="M723.500 18L736 6" stroke="#555" stroke-width="1.100"/>
<!-- 22 channel -->
<g stroke="#3d3d3d" fill="none"><path d="M750.5 13L762 5M751.5 17.5L763.5 9.5" stroke-width="1.1"/><path d="M754 16L757 7M757 14.5L760 5.5M760 13L763 4" stroke-width="1"/></g><text x="760.5" y="20" font-size="7" font-weight="bold" font-family="Liberation Sans, sans-serif" fill="#3d3d3d">E</text>
<!-- 23 fibo -->
<g stroke="#3d3d3d" stroke-width="1" stroke-dasharray="1 1"><path d="M779 4.5H793M779 8.5H793M779 11.5H793M779 15.5H787"/></g><text x="788.5" y="20" font-size="7" font-weight="bold" font-family="Liberation Sans, sans-serif" fill="#3d3d3d">F</text>
<!-- 24 A -->
<text x="809" y="15.5" font-size="12" font-family="Liberation Sans, sans-serif" fill="#3d3d3d">A</text>
<!-- 25 T -->
<rect x="836" y="5" width="12" height="13" fill="none" stroke="#3d3d3d" stroke-width="1" stroke-dasharray="1 1"/><text x="838" y="16" font-size="11.5" font-family="Liberation Sans, sans-serif" fill="#3d3d3d">T</text>
<!-- 26 arrows -->
<g fill="#3d3d3d"><path d="M863.5 8L867 4.5L870.5 8z"/><path d="M870 15L873.5 18.5L877 15z"/><path d="M865 11.5L867.5 14L872.5 9" fill="none" stroke="#3d3d3d" stroke-width="1.3"/></g>
<use href="#dd" x="883.800" y="9.800"/>
<!-- periods -->
<g font-size="9.6" font-family="Liberation Sans, sans-serif" fill="#3a3a3a"><text x="910" y="15">M1</text><text x="938" y="15">M5</text><text x="964" y="15">M15</text><text x="992" y="15">M30</text><text x="1023" y="15">H1</text><text x="1050" y="15">H4</text><text x="1079" y="15">D1</text><text x="1106.5" y="15">W1</text><text x="1133" y="15">MN</text></g>
<!-- search -->
<g><path d="M1623.300 11.600L1619.300 15.700" stroke="#2a5fd0" stroke-width="2.300" stroke-linecap="round"/><circle cx="1626.600" cy="8.400" r="4" fill="#f6f6ff" stroke="#2563d8" stroke-width="1.300"/></g>
<!-- chat -->
<defs><linearGradient id="gq" x1="0" y1="0" x2="0" y2="1"><stop offset="0" stop-color="#ffffff"/><stop offset="1" stop-color="#dcdce6"/></linearGradient></defs>
<g stroke="#8a8a8a" stroke-width=".9" fill="url(#gq)"><path d="M1660.800 11.500L1662.600 14.800L1663.400 11z" stroke-linejoin="round"/><ellipse cx="1659.200" cy="7.750" rx="6.500" ry="4.400"/><path d="M1661.200 11.700L1662.400 13.800L1663 11.400z" stroke="none" fill="#e4e4ec"/><path d="M1647.700 14.500L1647.200 17.800L1650.300 15.800z" stroke-linejoin="round"/><ellipse cx="1650.400" cy="12.100" rx="5" ry="3.800"/><path d="M1648.100 14.800L1647.800 16.800L1649.700 15.600z" stroke="none" fill="#e4e4ec"/></g>
</svg>

<div id="ow">
<div class="tab" style="left:0"><span class="tl" style="left:11.300px;transform:scaleX(.9);letter-spacing:-.15px">SELL</span></div>
<div class="tab" style="left:167px"><span class="tl" style="left:12.800px;transform:scaleX(.93);letter-spacing:-.1px">BUY</span></div>
<div class="pan" style="left:0"><span class="ps" style="left:15.500px">28759</span><span class="pd" style="left:54.5px">.</span><span class="pb" style="left:59.800px">0</span></div>
<div class="pan" style="left:111px"><span class="ps" style="left:14.500px">28772</span><span class="pd" style="left:54.500px">.</span><span class="pb" style="left:59.800px">0</span></div>
<i class="ul" style="left:4px"></i><i class="ul" style="left:171px"></i><i class="tb" style="left:52px;width:57px"></i><i class="tb" style="left:111px;width:56px"></i><div class="spin"><div class="sb" style="left:0"><svg width="6" height="4" style="position:absolute;left:7px;top:8px"><path d="M0 0h5.400l-2.700 3.200z" fill="#000"/></svg></div><div class="sv">1.00</div><div class="sb" style="right:0"><svg width="6" height="4" style="position:absolute;left:7px;top:8px"><path d="M0 3.200h5.400l-2.700-3.200z" fill="#000"/></svg></div></div>
</div>

</body></html>
